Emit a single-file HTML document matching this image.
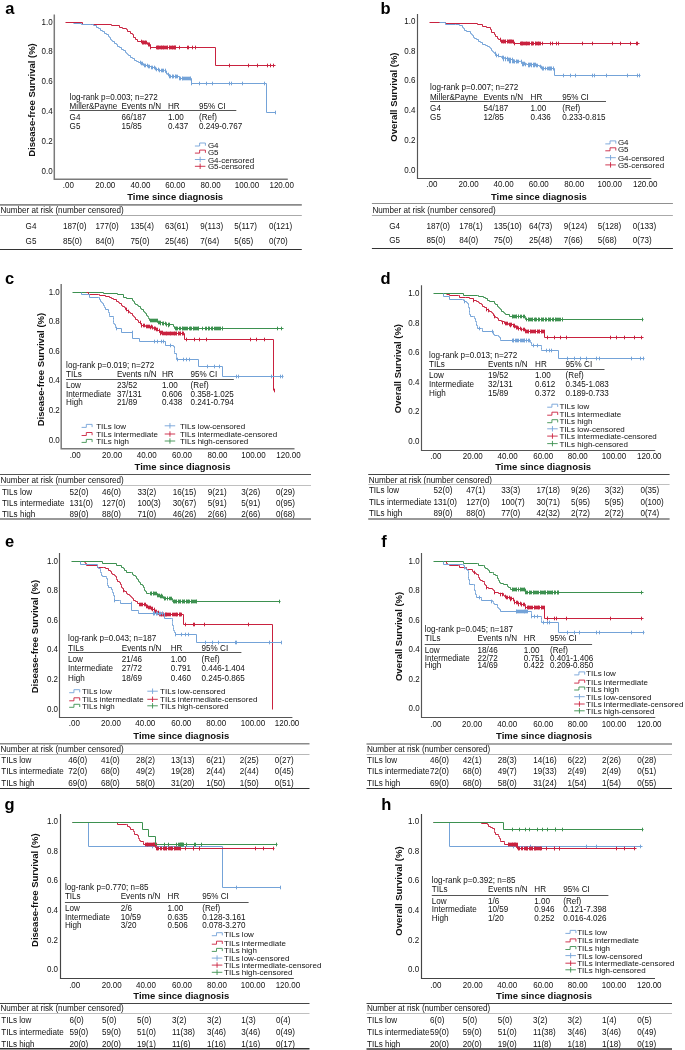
<!DOCTYPE html>
<html><head><meta charset="utf-8"><style>
html,body{margin:0;padding:0;background:#fff;overflow:hidden;width:685px;height:1050px;}
svg{display:block;will-change:transform;}
text{font-family:"Liberation Sans", sans-serif;}
</style></head><body>
<svg width="685" height="1050" viewBox="0 0 685 1050">
<rect width="685" height="1050" fill="#fff"/>
<path d="M54.3,14.6V179.2H287.8" fill="none" stroke="#7a7a7a" stroke-width="1.5" stroke-linejoin="miter"/>
<text x="52.60" y="24.70" font-size="8.48" text-anchor="end" fill="#111" transform="matrix(0.9434,0,0,1,2.977,0)">1.0</text>
<text x="52.60" y="54.50" font-size="8.48" text-anchor="end" fill="#111" transform="matrix(0.9434,0,0,1,2.977,0)">0.8</text>
<text x="52.60" y="84.30" font-size="8.48" text-anchor="end" fill="#111" transform="matrix(0.9434,0,0,1,2.977,0)">0.6</text>
<text x="52.60" y="114.10" font-size="8.48" text-anchor="end" fill="#111" transform="matrix(0.9434,0,0,1,2.977,0)">0.4</text>
<text x="52.60" y="143.90" font-size="8.48" text-anchor="end" fill="#111" transform="matrix(0.9434,0,0,1,2.977,0)">0.2</text>
<text x="52.60" y="173.70" font-size="8.48" text-anchor="end" fill="#111" transform="matrix(0.9434,0,0,1,2.977,0)">0.0</text>
<text x="68.30" y="187.80" font-size="8.48" text-anchor="middle" fill="#111" transform="matrix(0.9434,0,0,1,3.866,0)">.00</text>
<text x="105.30" y="187.80" font-size="8.48" text-anchor="middle" fill="#111" transform="matrix(0.9434,0,0,1,5.960,0)">20.00</text>
<text x="140.50" y="187.80" font-size="8.48" text-anchor="middle" fill="#111" transform="matrix(0.9434,0,0,1,7.953,0)">40.00</text>
<text x="175.20" y="187.80" font-size="8.48" text-anchor="middle" fill="#111" transform="matrix(0.9434,0,0,1,9.917,0)">60.00</text>
<text x="210.60" y="187.80" font-size="8.48" text-anchor="middle" fill="#111" transform="matrix(0.9434,0,0,1,11.921,0)">80.00</text>
<text x="247.00" y="187.80" font-size="8.48" text-anchor="middle" fill="#111" transform="matrix(0.9434,0,0,1,13.981,0)">100.00</text>
<text x="281.70" y="187.80" font-size="8.48" text-anchor="middle" fill="#111" transform="matrix(0.9434,0,0,1,15.945,0)">120.00</text>
<text x="175.20" y="199.90" font-size="9.5" text-anchor="middle" font-weight="bold" fill="#111" >Time since diagnosis</text>
<text x="34.60" y="100.00" font-size="9.5" text-anchor="middle" font-weight="bold" fill="#111" transform="rotate(-90 34.6 100.0)">Disease-free Survival (%)</text>
<text x="5.30" y="14.20" font-size="16.5" text-anchor="start" font-weight="bold" fill="#000" >a</text>
<path d="M65.5,22.5H82.5V24.5H111.5V25.5H119.5V27.5H122.5V28.5H126.5V29.5H127.5V31.5H130.5V33.5H132.5V34.5H133.5V37.5H135.5V39.5H137.5V41.5H141.5V42.5H147.5V44.5H150.5V47.5H215.5V65.5H275.5" fill="none" stroke="#c9223f" stroke-width="1.0"/>
<path d="M142.5,40.7V44.3M143.5,40.7V44.3M144.5,40.7V44.3M145.5,40.7V44.3M148.5,42.7V46.3M149.5,42.7V46.3M157.5,45.7V49.3M158.5,45.7V49.3M160.5,45.7V49.3M161.5,45.7V49.3M163.5,45.7V49.3M164.5,45.7V49.3M167.5,45.7V49.3M169.5,45.7V49.3M172.5,45.7V49.3M173.5,45.7V49.3M174.5,45.7V49.3M175.5,45.7V49.3M179.5,45.7V49.3M187.5,45.7V49.3M188.5,45.7V49.3M192.5,45.7V49.3M195.5,45.7V49.3M229.5,63.7V67.3M248.5,63.7V67.3M257.5,63.7V67.3M267.5,63.7V67.3M270.5,63.7V67.3M273.5,63.7V67.3M141.5,39.7V43.3M142.5,40.7V44.3M143.5,40.7V44.3M145.5,40.7V44.3M146.5,40.7V44.3M148.5,42.7V46.3M149.5,42.7V46.3M150.5,45.7V49.3M156.5,45.7V49.3M157.5,45.7V49.3M158.5,45.7V49.3M159.5,45.7V49.3M161.5,45.7V49.3M162.5,45.7V49.3M163.5,45.7V49.3M165.5,45.7V49.3M166.5,45.7V49.3M167.5,45.7V49.3M169.5,45.7V49.3M170.5,45.7V49.3M171.5,45.7V49.3M172.5,45.7V49.3M174.5,45.7V49.3M175.5,45.7V49.3" fill="none" stroke="#c9223f" stroke-width="1"/>
<path d="M73.5,23.5H81.5V24.5H91.5H93.5V25.5H96.5V27.5H98.5V28.5H100.5V30.5H102.5V31.5H104.5V33.5H106.5V34.5H108.5V36.5H109.5V37.5H110.5V39.5H111.5V40.5H112.5V41.5H114.5V43.5H116.5V44.5H117.5V46.5H119.5V47.5H121.5V49.5H123.5V50.5H125.5V52.5H126.5V53.5H127.5V54.5H128.5V55.5H130.5V57.5H132.5V58.5H134.5V60.5H136.5V61.5H138.5V62.5H140.5V63.5H143.5V65.5H147.5V66.5H151.5V67.5H154.5V68.5H156.5V69.5H158.5V70.5H164.5V70.5H165.5V72.5H166.5V73.5H167.5V74.5H169.5V76.5H177.5V76.5H179.5V78.5H191.5V83.5H266.5V112.5H275.5" fill="none" stroke="#74a3d8" stroke-width="1.0"/>
<path d="M199.5,81.7V85.3M206.5,81.7V85.3M212.5,81.7V85.3M229.5,81.7V85.3M231.5,81.7V85.3M242.5,81.7V85.3M264.5,81.7V85.3M275.5,110.7V114.3M172.5,74.7V78.3M175.5,74.7V78.3M182.5,76.7V80.3M185.5,76.7V80.3M188.5,76.7V80.3M190.5,76.7V80.3M140.5,60.7V64.3M141.5,61.7V65.3M142.5,61.7V65.3M144.5,63.7V67.3M145.5,63.7V67.3M147.5,63.7V67.3M148.5,64.7V68.3M149.5,64.7V68.3M151.5,65.7V69.3M152.5,65.7V69.3M154.5,65.7V69.3M155.5,66.7V70.3M156.5,67.7V71.3M158.5,67.7V71.3M159.5,68.7V72.3M161.5,68.7V72.3M162.5,68.7V72.3M163.5,68.7V72.3M165.5,68.7V72.3M166.5,70.7V74.3M168.5,72.7V76.3M169.5,74.7V78.3M170.5,74.7V78.3M172.5,74.7V78.3M173.5,74.7V78.3M175.5,74.7V78.3M176.5,74.7V78.3M177.5,74.7V78.3M179.5,76.7V80.3M180.5,76.7V80.3M182.5,76.7V80.3M183.5,76.7V80.3M184.5,76.7V80.3M186.5,76.7V80.3M187.5,76.7V80.3M189.5,76.7V80.3M190.5,76.7V80.3M191.5,81.7V85.3" fill="none" stroke="#74a3d8" stroke-width="1"/>
<text x="69.60" y="100.20" font-size="8.59" text-anchor="start" fill="#111" transform="matrix(0.9434,0,0,1,3.940,0)">log-rank p=0.003; n=272</text>
<text x="69.60" y="108.90" font-size="8.59" text-anchor="start" fill="#111" transform="matrix(0.9434,0,0,1,3.940,0)">Miller&amp;Payne</text>
<text x="121.50" y="108.90" font-size="8.59" text-anchor="start" fill="#111" transform="matrix(0.9434,0,0,1,6.877,0)">Events n/N</text>
<text x="168.00" y="108.90" font-size="8.59" text-anchor="start" fill="#111" transform="matrix(0.9434,0,0,1,9.509,0)">HR</text>
<text x="199.00" y="108.90" font-size="8.59" text-anchor="start" fill="#111" transform="matrix(0.9434,0,0,1,11.264,0)">95% CI</text>
<line x1="69.6" y1="110.5" x2="236.3" y2="110.5" stroke="#555" stroke-width="1.0"/>
<text x="69.60" y="120.30" font-size="8.59" text-anchor="start" fill="#111" transform="matrix(0.9434,0,0,1,3.940,0)">G4</text>
<text x="121.50" y="120.30" font-size="8.59" text-anchor="start" fill="#111" transform="matrix(0.9434,0,0,1,6.877,0)">66/187</text>
<text x="168.00" y="120.30" font-size="8.59" text-anchor="start" fill="#111" transform="matrix(0.9434,0,0,1,9.509,0)">1.00</text>
<text x="199.00" y="120.30" font-size="8.59" text-anchor="start" fill="#111" transform="matrix(0.9434,0,0,1,11.264,0)">(Ref)</text>
<text x="69.60" y="129.10" font-size="8.59" text-anchor="start" fill="#111" transform="matrix(0.9434,0,0,1,3.940,0)">G5</text>
<text x="121.50" y="129.10" font-size="8.59" text-anchor="start" fill="#111" transform="matrix(0.9434,0,0,1,6.877,0)">15/85</text>
<text x="168.00" y="129.10" font-size="8.59" text-anchor="start" fill="#111" transform="matrix(0.9434,0,0,1,9.509,0)">0.437</text>
<text x="199.00" y="129.10" font-size="8.59" text-anchor="start" fill="#111" transform="matrix(0.9434,0,0,1,11.264,0)">0.249-0.767</text>
<path d="M194.9,146.0 H199.625 V143.0 H205.4 V145.7" fill="none" stroke="#74a3d8" stroke-width="0.9"/>
<text x="207.90" y="147.60" font-size="6.88" text-anchor="start" fill="#111" transform="matrix(1.1628,0,0,1,-33.844,0)">G4</text>
<path d="M194.9,153.1 H199.625 V150.1 H205.4 V152.79999999999998" fill="none" stroke="#c9223f" stroke-width="0.9"/>
<text x="207.90" y="154.70" font-size="6.88" text-anchor="start" fill="#111" transform="matrix(1.1628,0,0,1,-33.844,0)">G5</text>
<path d="M194.9,159.5 H205.4 M200.15,156.8 V162.2" fill="none" stroke="#74a3d8" stroke-width="0.9"/>
<text x="207.90" y="162.60" font-size="6.88" text-anchor="start" fill="#111" transform="matrix(1.1628,0,0,1,-33.844,0)">G4-censored</text>
<path d="M194.9,166.3 H205.4 M200.15,163.60000000000002 V169.0" fill="none" stroke="#c9223f" stroke-width="0.9"/>
<text x="207.90" y="169.40" font-size="6.88" text-anchor="start" fill="#111" transform="matrix(1.1628,0,0,1,-33.844,0)">G5-censored</text>
<line x1="0" y1="204.9" x2="301.8" y2="204.9" stroke="#8a8a8a" stroke-width="1.6"/>
<text x="0.50" y="213.50" font-size="8.59" text-anchor="start" fill="#111" transform="matrix(0.9434,0,0,1,0.028,0)">Number at risk (number censored)</text>
<line x1="0" y1="215.5" x2="301.8" y2="215.5" stroke="#a0a0a0" stroke-width="0.9"/>
<text x="31.00" y="229.20" font-size="8.59" text-anchor="middle" fill="#111" transform="matrix(0.9434,0,0,1,1.755,0)">G4</text>
<text x="63.00" y="229.20" font-size="8.59" text-anchor="start" fill="#111" transform="matrix(0.9434,0,0,1,3.566,0)">187(0)</text>
<text x="95.40" y="229.20" font-size="8.59" text-anchor="start" fill="#111" transform="matrix(0.9434,0,0,1,5.400,0)">177(0)</text>
<text x="130.50" y="229.20" font-size="8.59" text-anchor="start" fill="#111" transform="matrix(0.9434,0,0,1,7.387,0)">135(4)</text>
<text x="165.10" y="229.20" font-size="8.59" text-anchor="start" fill="#111" transform="matrix(0.9434,0,0,1,9.345,0)">63(61)</text>
<text x="200.30" y="229.20" font-size="8.59" text-anchor="start" fill="#111" transform="matrix(0.9434,0,0,1,11.338,0)">9(113)</text>
<text x="234.20" y="229.20" font-size="8.59" text-anchor="start" fill="#111" transform="matrix(0.9434,0,0,1,13.257,0)">5(117)</text>
<text x="268.90" y="229.20" font-size="8.59" text-anchor="start" fill="#111" transform="matrix(0.9434,0,0,1,15.221,0)">0(121)</text>
<text x="31.00" y="243.60" font-size="8.59" text-anchor="middle" fill="#111" transform="matrix(0.9434,0,0,1,1.755,0)">G5</text>
<text x="63.00" y="243.60" font-size="8.59" text-anchor="start" fill="#111" transform="matrix(0.9434,0,0,1,3.566,0)">85(0)</text>
<text x="95.40" y="243.60" font-size="8.59" text-anchor="start" fill="#111" transform="matrix(0.9434,0,0,1,5.400,0)">84(0)</text>
<text x="130.50" y="243.60" font-size="8.59" text-anchor="start" fill="#111" transform="matrix(0.9434,0,0,1,7.387,0)">75(0)</text>
<text x="165.10" y="243.60" font-size="8.59" text-anchor="start" fill="#111" transform="matrix(0.9434,0,0,1,9.345,0)">25(46)</text>
<text x="200.30" y="243.60" font-size="8.59" text-anchor="start" fill="#111" transform="matrix(0.9434,0,0,1,11.338,0)">7(64)</text>
<text x="234.20" y="243.60" font-size="8.59" text-anchor="start" fill="#111" transform="matrix(0.9434,0,0,1,13.257,0)">5(65)</text>
<text x="268.90" y="243.60" font-size="8.59" text-anchor="start" fill="#111" transform="matrix(0.9434,0,0,1,15.221,0)">0(70)</text>
<line x1="0" y1="249.5" x2="301.8" y2="249.5" stroke="#333" stroke-width="1.2"/>
<path d="M417.5,13.9V178.5H651.3" fill="none" stroke="#555" stroke-width="1.15" stroke-linejoin="miter"/>
<text x="415.40" y="24.00" font-size="8.48" text-anchor="end" fill="#111" transform="matrix(0.9434,0,0,1,23.513,0)">1.0</text>
<text x="415.40" y="53.75" font-size="8.48" text-anchor="end" fill="#111" transform="matrix(0.9434,0,0,1,23.513,0)">0.8</text>
<text x="415.40" y="83.50" font-size="8.48" text-anchor="end" fill="#111" transform="matrix(0.9434,0,0,1,23.513,0)">0.6</text>
<text x="415.40" y="113.25" font-size="8.48" text-anchor="end" fill="#111" transform="matrix(0.9434,0,0,1,23.513,0)">0.4</text>
<text x="415.40" y="143.00" font-size="8.48" text-anchor="end" fill="#111" transform="matrix(0.9434,0,0,1,23.513,0)">0.2</text>
<text x="415.40" y="172.75" font-size="8.48" text-anchor="end" fill="#111" transform="matrix(0.9434,0,0,1,23.513,0)">0.0</text>
<text x="431.90" y="187.20" font-size="8.48" text-anchor="middle" fill="#111" transform="matrix(0.9434,0,0,1,24.447,0)">.00</text>
<text x="468.60" y="187.20" font-size="8.48" text-anchor="middle" fill="#111" transform="matrix(0.9434,0,0,1,26.525,0)">20.00</text>
<text x="503.60" y="187.20" font-size="8.48" text-anchor="middle" fill="#111" transform="matrix(0.9434,0,0,1,28.506,0)">40.00</text>
<text x="538.80" y="187.20" font-size="8.48" text-anchor="middle" fill="#111" transform="matrix(0.9434,0,0,1,30.498,0)">60.00</text>
<text x="574.20" y="187.20" font-size="8.48" text-anchor="middle" fill="#111" transform="matrix(0.9434,0,0,1,32.502,0)">80.00</text>
<text x="609.80" y="187.20" font-size="8.48" text-anchor="middle" fill="#111" transform="matrix(0.9434,0,0,1,34.517,0)">100.00</text>
<text x="645.20" y="187.20" font-size="8.48" text-anchor="middle" fill="#111" transform="matrix(0.9434,0,0,1,36.521,0)">120.00</text>
<text x="538.90" y="199.80" font-size="9.5" text-anchor="middle" font-weight="bold" fill="#111" >Time since diagnosis</text>
<text x="397.50" y="97.10" font-size="9.5" text-anchor="middle" font-weight="bold" fill="#111" transform="rotate(-90 397.5 97.1)">Overall Survival (%)</text>
<text x="380.60" y="13.90" font-size="16.5" text-anchor="start" font-weight="bold" fill="#000" >b</text>
<path d="M429.5,22.5H445.5V23.5H477.5V24.5H482.5V26.5H486.5V27.5H490.5V29.5H491.5V32.5H494.5V34.5H495.5V36.5H497.5V38.5H498.5V39.5H500.5V41.5H513.5V43.5H639.5" fill="none" stroke="#c9223f" stroke-width="1.0"/>
<path d="M503.5,39.7V43.3M505.5,39.7V43.3M507.5,39.7V43.3M509.5,39.7V43.3M510.5,39.7V43.3M511.5,39.7V43.3M512.5,39.7V43.3M521.5,41.7V45.3M522.5,41.7V45.3M523.5,41.7V45.3M526.5,41.7V45.3M527.5,41.7V45.3M531.5,41.7V45.3M532.5,41.7V45.3M535.5,41.7V45.3M537.5,41.7V45.3M538.5,41.7V45.3M542.5,41.7V45.3M550.5,41.7V45.3M552.5,41.7V45.3M556.5,41.7V45.3M558.5,41.7V45.3M582.5,41.7V45.3M592.5,41.7V45.3M612.5,41.7V45.3M620.5,41.7V45.3M630.5,41.7V45.3M636.5,41.7V45.3M637.5,41.7V45.3M500.5,37.7V41.3M501.5,39.7V43.3M502.5,39.7V43.3M503.5,39.7V43.3M504.5,39.7V43.3M505.5,39.7V43.3M507.5,39.7V43.3M508.5,39.7V43.3M509.5,39.7V43.3M510.5,39.7V43.3M511.5,39.7V43.3M513.5,39.7V43.3M514.5,41.7V45.3M520.5,41.7V45.3M521.5,41.7V45.3M522.5,41.7V45.3M524.5,41.7V45.3M525.5,41.7V45.3M526.5,41.7V45.3M528.5,41.7V45.3M529.5,41.7V45.3M531.5,41.7V45.3M532.5,41.7V45.3M533.5,41.7V45.3M535.5,41.7V45.3M536.5,41.7V45.3M538.5,41.7V45.3M539.5,41.7V45.3M540.5,41.7V45.3" fill="none" stroke="#c9223f" stroke-width="1"/>
<path d="M439.5,22.5H445.5V24.5H455.5H459.5V25.5H462.5V27.5H463.5V28.5H464.5V30.5H466.5V31.5H470.5V33.5H471.5V34.5H472.5V35.5H473.5V37.5H474.5V38.5H476.5V39.5H478.5V41.5H480.5V42.5H482.5V44.5H485.5V45.5H487.5V46.5H489.5V47.5H490.5V48.5H491.5V50.5H492.5V51.5H493.5V52.5H494.5V53.5H495.5V55.5H498.5V56.5H501.5V57.5H504.5V58.5H507.5V59.5H513.5V61.5L520.20,61.40H521.5V63.5H526.5V64.5H537.5V65.5H539.5V66.5H540.5V67.5H541.5V68.5H554.5V75.5H640.5" fill="none" stroke="#74a3d8" stroke-width="1.0"/>
<path d="M563.5,73.7V77.3M570.5,73.7V77.3M575.5,73.7V77.3M592.5,73.7V77.3M594.5,73.7V77.3M606.5,73.7V77.3M627.5,73.7V77.3M637.5,73.7V77.3M639.5,73.7V77.3M542.5,66.7V70.3M543.5,66.7V70.3M545.5,66.7V70.3M547.5,66.7V70.3M549.5,66.7V70.3M550.5,66.7V70.3M551.5,66.7V70.3M553.5,66.7V70.3M528.5,63.7V67.3M529.5,63.7V67.3M531.5,63.7V67.3M533.5,63.7V67.3M534.5,63.7V67.3M536.5,63.7V67.3M522.5,62.7V66.3M523.5,62.7V66.3M525.5,62.7V66.3M509.5,59.7V63.3M510.5,59.7V63.3M512.5,59.7V63.3M514.5,59.7V63.3M516.5,59.7V63.3M518.5,59.7V63.3M503.5,57.7V61.3M505.5,57.7V61.3M507.5,57.7V61.3M495.5,51.7V55.3M496.5,53.7V57.3M498.5,53.7V57.3M502.5,55.7V59.3M503.5,55.7V59.3M505.5,56.7V60.3M507.5,56.7V60.3M508.5,57.7V61.3M509.5,57.7V61.3M510.5,57.7V61.3M512.5,57.7V61.3M513.5,59.7V63.3M514.5,59.7V63.3M516.5,59.7V63.3M517.5,59.7V63.3M521.5,59.7V63.3M522.5,61.7V65.3M523.5,61.7V65.3M524.5,61.7V65.3M528.5,62.7V66.3M529.5,62.7V66.3M530.5,62.7V66.3M531.5,62.7V66.3M533.5,62.7V66.3M534.5,62.7V66.3M535.5,62.7V66.3M537.5,63.7V67.3M540.5,64.7V68.3M541.5,65.7V69.3M542.5,66.7V70.3M543.5,66.7V70.3M548.5,66.7V70.3M549.5,66.7V70.3M550.5,66.7V70.3M551.5,66.7V70.3M553.5,66.7V70.3" fill="none" stroke="#74a3d8" stroke-width="1"/>
<text x="430.10" y="90.20" font-size="8.59" text-anchor="start" fill="#111" transform="matrix(0.9434,0,0,1,24.345,0)">log-rank p=0.007; n=272</text>
<text x="430.10" y="99.70" font-size="8.59" text-anchor="start" fill="#111" transform="matrix(0.9434,0,0,1,24.345,0)">Miller&amp;Payne</text>
<text x="483.40" y="99.70" font-size="8.59" text-anchor="start" fill="#111" transform="matrix(0.9434,0,0,1,27.362,0)">Events n/N</text>
<text x="530.60" y="99.70" font-size="8.59" text-anchor="start" fill="#111" transform="matrix(0.9434,0,0,1,30.034,0)">HR</text>
<text x="562.20" y="99.70" font-size="8.59" text-anchor="start" fill="#111" transform="matrix(0.9434,0,0,1,31.823,0)">95% CI</text>
<line x1="430.1" y1="101.5" x2="606" y2="101.5" stroke="#555" stroke-width="1.0"/>
<text x="430.10" y="110.90" font-size="8.59" text-anchor="start" fill="#111" transform="matrix(0.9434,0,0,1,24.345,0)">G4</text>
<text x="483.40" y="110.90" font-size="8.59" text-anchor="start" fill="#111" transform="matrix(0.9434,0,0,1,27.362,0)">54/187</text>
<text x="530.60" y="110.90" font-size="8.59" text-anchor="start" fill="#111" transform="matrix(0.9434,0,0,1,30.034,0)">1.00</text>
<text x="562.20" y="110.90" font-size="8.59" text-anchor="start" fill="#111" transform="matrix(0.9434,0,0,1,31.823,0)">(Ref)</text>
<text x="430.10" y="120.50" font-size="8.59" text-anchor="start" fill="#111" transform="matrix(0.9434,0,0,1,24.345,0)">G5</text>
<text x="483.40" y="120.50" font-size="8.59" text-anchor="start" fill="#111" transform="matrix(0.9434,0,0,1,27.362,0)">12/85</text>
<text x="530.60" y="120.50" font-size="8.59" text-anchor="start" fill="#111" transform="matrix(0.9434,0,0,1,30.034,0)">0.436</text>
<text x="562.20" y="120.50" font-size="8.59" text-anchor="start" fill="#111" transform="matrix(0.9434,0,0,1,31.823,0)">0.233-0.815</text>
<path d="M605.3,143.9 H610.025 V140.9 H615.8 V143.6" fill="none" stroke="#74a3d8" stroke-width="0.9"/>
<text x="617.90" y="145.50" font-size="6.88" text-anchor="start" fill="#111" transform="matrix(1.1628,0,0,1,-100.588,0)">G4</text>
<path d="M605.3,150.8 H610.025 V147.8 H615.8 V150.5" fill="none" stroke="#c9223f" stroke-width="0.9"/>
<text x="617.90" y="152.40" font-size="6.88" text-anchor="start" fill="#111" transform="matrix(1.1628,0,0,1,-100.588,0)">G5</text>
<path d="M605.3,157.70000000000002 H615.8 M610.55,155.00000000000003 V160.4" fill="none" stroke="#74a3d8" stroke-width="0.9"/>
<text x="617.90" y="160.80" font-size="6.88" text-anchor="start" fill="#111" transform="matrix(1.1628,0,0,1,-100.588,0)">G4-censored</text>
<path d="M605.3,164.9 H615.8 M610.55,162.20000000000002 V167.6" fill="none" stroke="#c9223f" stroke-width="0.9"/>
<text x="617.90" y="168.00" font-size="6.88" text-anchor="start" fill="#111" transform="matrix(1.1628,0,0,1,-100.588,0)">G5-censored</text>
<line x1="371.9" y1="203.5" x2="672.9" y2="203.5" stroke="#909090" stroke-width="1.2"/>
<text x="372.40" y="213.00" font-size="8.59" text-anchor="start" fill="#111" transform="matrix(0.9434,0,0,1,21.079,0)">Number at risk (number censored)</text>
<line x1="371.9" y1="215.5" x2="672.9" y2="215.5" stroke="#a0a0a0" stroke-width="0.9"/>
<text x="394.60" y="228.90" font-size="8.59" text-anchor="middle" fill="#111" transform="matrix(0.9434,0,0,1,22.336,0)">G4</text>
<text x="426.50" y="228.90" font-size="8.59" text-anchor="start" fill="#111" transform="matrix(0.9434,0,0,1,24.142,0)">187(0)</text>
<text x="459.20" y="228.90" font-size="8.59" text-anchor="start" fill="#111" transform="matrix(0.9434,0,0,1,25.992,0)">178(1)</text>
<text x="493.80" y="228.90" font-size="8.59" text-anchor="start" fill="#111" transform="matrix(0.9434,0,0,1,27.951,0)">135(10)</text>
<text x="528.90" y="228.90" font-size="8.59" text-anchor="start" fill="#111" transform="matrix(0.9434,0,0,1,29.938,0)">64(73)</text>
<text x="563.80" y="228.90" font-size="8.59" text-anchor="start" fill="#111" transform="matrix(0.9434,0,0,1,31.913,0)">9(124)</text>
<text x="597.80" y="228.90" font-size="8.59" text-anchor="start" fill="#111" transform="matrix(0.9434,0,0,1,33.838,0)">5(128)</text>
<text x="632.70" y="228.90" font-size="8.59" text-anchor="start" fill="#111" transform="matrix(0.9434,0,0,1,35.813,0)">0(133)</text>
<text x="394.60" y="242.80" font-size="8.59" text-anchor="middle" fill="#111" transform="matrix(0.9434,0,0,1,22.336,0)">G5</text>
<text x="426.50" y="242.80" font-size="8.59" text-anchor="start" fill="#111" transform="matrix(0.9434,0,0,1,24.142,0)">85(0)</text>
<text x="459.20" y="242.80" font-size="8.59" text-anchor="start" fill="#111" transform="matrix(0.9434,0,0,1,25.992,0)">84(0)</text>
<text x="493.80" y="242.80" font-size="8.59" text-anchor="start" fill="#111" transform="matrix(0.9434,0,0,1,27.951,0)">75(0)</text>
<text x="528.90" y="242.80" font-size="8.59" text-anchor="start" fill="#111" transform="matrix(0.9434,0,0,1,29.938,0)">25(48)</text>
<text x="563.80" y="242.80" font-size="8.59" text-anchor="start" fill="#111" transform="matrix(0.9434,0,0,1,31.913,0)">7(66)</text>
<text x="597.80" y="242.80" font-size="8.59" text-anchor="start" fill="#111" transform="matrix(0.9434,0,0,1,33.838,0)">5(68)</text>
<text x="632.70" y="242.80" font-size="8.59" text-anchor="start" fill="#111" transform="matrix(0.9434,0,0,1,35.813,0)">0(73)</text>
<line x1="371.9" y1="248.5" x2="672.9" y2="248.5" stroke="#333" stroke-width="1.2"/>
<path d="M61.2,283.9V448.8H294.5" fill="none" stroke="#7a7a7a" stroke-width="1.5" stroke-linejoin="miter"/>
<text x="59.80" y="294.60" font-size="8.48" text-anchor="end" fill="#111" transform="matrix(0.9434,0,0,1,3.385,0)">1.0</text>
<text x="59.80" y="324.20" font-size="8.48" text-anchor="end" fill="#111" transform="matrix(0.9434,0,0,1,3.385,0)">0.8</text>
<text x="59.80" y="353.80" font-size="8.48" text-anchor="end" fill="#111" transform="matrix(0.9434,0,0,1,3.385,0)">0.6</text>
<text x="59.80" y="383.40" font-size="8.48" text-anchor="end" fill="#111" transform="matrix(0.9434,0,0,1,3.385,0)">0.4</text>
<text x="59.80" y="413.00" font-size="8.48" text-anchor="end" fill="#111" transform="matrix(0.9434,0,0,1,3.385,0)">0.2</text>
<text x="59.80" y="442.60" font-size="8.48" text-anchor="end" fill="#111" transform="matrix(0.9434,0,0,1,3.385,0)">0.0</text>
<text x="75.20" y="457.90" font-size="8.48" text-anchor="middle" fill="#111" transform="matrix(0.9434,0,0,1,4.257,0)">.00</text>
<text x="112.10" y="457.90" font-size="8.48" text-anchor="middle" fill="#111" transform="matrix(0.9434,0,0,1,6.345,0)">20.00</text>
<text x="146.70" y="457.90" font-size="8.48" text-anchor="middle" fill="#111" transform="matrix(0.9434,0,0,1,8.304,0)">40.00</text>
<text x="182.00" y="457.90" font-size="8.48" text-anchor="middle" fill="#111" transform="matrix(0.9434,0,0,1,10.302,0)">60.00</text>
<text x="217.50" y="457.90" font-size="8.48" text-anchor="middle" fill="#111" transform="matrix(0.9434,0,0,1,12.311,0)">80.00</text>
<text x="253.50" y="457.90" font-size="8.48" text-anchor="middle" fill="#111" transform="matrix(0.9434,0,0,1,14.349,0)">100.00</text>
<text x="288.50" y="457.90" font-size="8.48" text-anchor="middle" fill="#111" transform="matrix(0.9434,0,0,1,16.330,0)">120.00</text>
<text x="182.50" y="469.70" font-size="9.5" text-anchor="middle" font-weight="bold" fill="#111" >Time since diagnosis</text>
<text x="44.10" y="369.60" font-size="9.5" text-anchor="middle" font-weight="bold" fill="#111" transform="rotate(-90 44.1 369.6)">Disease-free Survival (%)</text>
<text x="5.10" y="283.90" font-size="16.5" text-anchor="start" font-weight="bold" fill="#000" >c</text>
<path d="M72.5,292.5H103.5V293.5H117.5V294.5H123.5V297.5H126.5V298.5H132.5V300.5H133.5V301.5H134.5V303.5H135.5V304.5H137.5V305.5H138.5V306.5H140.5V308.5H141.5V309.5H143.5V311.5H144.5V312.5H145.5V313.5H146.5V315.5H147.5V316.5H148.5V317.5H148.5V318.5H149.5V320.5H154.5V320.5H157.5V322.5H162.5V323.5H165.5V324.5H173.5V326.5H174.5V328.5H283.5" fill="none" stroke="#3d9150" stroke-width="1.0"/>
<path d="M152.5,318.7V322.3M155.5,318.7V322.3M158.5,320.7V324.3M160.5,321.7V325.3M163.5,321.7V325.3M166.5,322.7V326.3M168.5,323.7V327.3M176.5,326.7V330.3M182.5,326.7V330.3M185.5,326.7V330.3M190.5,326.7V330.3M193.5,326.7V330.3M195.5,326.7V330.3M198.5,326.7V330.3M202.5,326.7V330.3M208.5,326.7V330.3M212.5,326.7V330.3M215.5,326.7V330.3M218.5,326.7V330.3M222.5,326.7V330.3M277.5,326.7V330.3M281.5,326.7V330.3M150.5,318.7V322.3M151.5,318.7V322.3M153.5,318.7V322.3M154.5,318.7V322.3M156.5,318.7V322.3M157.5,318.7V322.3M159.5,320.7V324.3M160.5,320.7V324.3M162.5,321.7V325.3M163.5,321.7V325.3M165.5,321.7V325.3M166.5,322.7V326.3M168.5,322.7V326.3M169.5,322.7V326.3M175.5,326.7V330.3M176.5,326.7V330.3M177.5,326.7V330.3M179.5,326.7V330.3M180.5,326.7V330.3M182.5,326.7V330.3M183.5,326.7V330.3M184.5,326.7V330.3M186.5,326.7V330.3M187.5,326.7V330.3M189.5,326.7V330.3M190.5,326.7V330.3M191.5,326.7V330.3M193.5,326.7V330.3M194.5,326.7V330.3M196.5,326.7V330.3M197.5,326.7V330.3M198.5,326.7V330.3M205.5,326.7V330.3M206.5,326.7V330.3M208.5,326.7V330.3M209.5,326.7V330.3M211.5,326.7V330.3M212.5,326.7V330.3M214.5,326.7V330.3M216.5,326.7V330.3M217.5,326.7V330.3M219.5,326.7V330.3M220.5,326.7V330.3M222.5,326.7V330.3" fill="none" stroke="#3d9150" stroke-width="1"/>
<path d="M86.5,292.5H88.5V294.5H98.5H99.5V295.5H105.5V296.5H109.5V297.5H111.5V298.5H113.5V299.5H116.5V301.5H118.5V302.5H119.5V303.5H121.5V305.5H122.5V306.5H124.5V307.5H125.5V309.5H126.5V310.5H128.5V311.5H129.5V312.5H130.5V313.5H132.5V315.5H133.5V316.5H134.5V317.5H135.5V319.5H137.5V320.5H138.5V322.5H140.5V323.5H141.5V325.5H145.5V326.5H151.5V327.5H153.5V328.5H156.5V329.5H157.5V330.5H159.5V332.5H163.5V333.5H184.5V339.5H273.5V390.5" fill="none" stroke="#c9223f" stroke-width="1.0"/>
<path d="M160.5,331.7V335.3M162.5,331.7V335.3M164.5,331.7V335.3M166.5,331.7V335.3M168.5,331.7V335.3M170.5,331.7V335.3M172.5,331.7V335.3M174.5,331.7V335.3M176.5,331.7V335.3M178.5,331.7V335.3M180.5,331.7V335.3M182.5,331.7V335.3M126.5,307.7V311.3M128.5,309.7V313.3M141.5,323.7V327.3M148.5,324.7V328.3M150.5,325.7V329.3M152.5,325.7V329.3M154.5,326.7V330.3M156.5,327.7V331.3M186.5,337.7V341.3M194.5,337.7V341.3M199.5,337.7V341.3M206.5,337.7V341.3M250.5,337.7V341.3M256.5,337.7V341.3M264.5,337.7V341.3M274.5,388.7V392.3M140.5,320.7V324.3M141.5,323.7V327.3M143.5,323.7V327.3M144.5,323.7V327.3M146.5,324.7V328.3M147.5,324.7V328.3M149.5,324.7V328.3M151.5,324.7V328.3M152.5,325.7V329.3M154.5,326.7V330.3M155.5,326.7V330.3M157.5,327.7V331.3M159.5,328.7V332.3M160.5,330.7V334.3M161.5,330.7V334.3M162.5,330.7V334.3M163.5,331.7V335.3M165.5,331.7V335.3M166.5,331.7V335.3M167.5,331.7V335.3M169.5,331.7V335.3M170.5,331.7V335.3M171.5,331.7V335.3M173.5,331.7V335.3M174.5,331.7V335.3M175.5,331.7V335.3M176.5,331.7V335.3M178.5,331.7V335.3M179.5,331.7V335.3M180.5,331.7V335.3M182.5,331.7V335.3M183.5,331.7V335.3" fill="none" stroke="#c9223f" stroke-width="1"/>
<path d="M81.5,292.5V294.5H89.5V297.5H98.5H99.5V299.5H100.5V301.5H101.5V302.5H102.5V303.5H103.5V305.5H104.5V306.5H104.5V307.5H105.5V309.5H108.5V309.5H108.5V311.5H108.5V312.5H109.5V313.5H109.5V315.5H109.5V316.5H113.5V317.5H113.5V319.5H113.5V320.5H113.5V322.5H113.5V323.5H114.5V324.5H115.5V326.5H115.5V327.5H116.5V328.5H121.5V332.5H132.5V338.5H139.5V341.5H165.5H165.5V342.5H165.5V343.5H165.5V345.5H173.5H173.5V346.5H174.5V348.5H174.5V349.5H174.5V350.5H174.5V352.5H174.5V353.5H176.5V355.5H176.5V356.5H176.5V357.5H176.5V359.5H198.5V366.5H222.5V376.5H283.5" fill="none" stroke="#74a3d8" stroke-width="1.0"/>
<path d="M116.5,326.7V330.3M132.5,330.7V334.3M165.5,341.7V345.3M170.5,343.7V347.3M154.5,339.7V343.3M157.5,339.7V343.3M161.5,339.7V343.3M163.5,339.7V343.3M177.5,357.7V361.3M183.5,357.7V361.3M186.5,357.7V361.3M189.5,357.7V361.3M207.5,364.7V368.3M214.5,364.7V368.3M219.5,364.7V368.3M236.5,374.7V378.3M238.5,374.7V378.3M271.5,374.7V378.3M280.5,374.7V378.3M282.5,374.7V378.3" fill="none" stroke="#74a3d8" stroke-width="1"/>
<text x="66.10" y="367.80" font-size="8.59" text-anchor="start" fill="#111" transform="matrix(0.9434,0,0,1,3.742,0)">log-rank p=0.019; n=272</text>
<text x="66.10" y="377.20" font-size="8.59" text-anchor="start" fill="#111" transform="matrix(0.9434,0,0,1,3.742,0)">TILs</text>
<text x="116.90" y="377.20" font-size="8.59" text-anchor="start" fill="#111" transform="matrix(0.9434,0,0,1,6.617,0)">Events n/N</text>
<text x="162.00" y="377.20" font-size="8.59" text-anchor="start" fill="#111" transform="matrix(0.9434,0,0,1,9.170,0)">HR</text>
<text x="190.60" y="377.20" font-size="8.59" text-anchor="start" fill="#111" transform="matrix(0.9434,0,0,1,10.789,0)">95% CI</text>
<line x1="66.1" y1="379.5" x2="233.8" y2="379.5" stroke="#555" stroke-width="1.0"/>
<text x="66.10" y="387.90" font-size="8.59" text-anchor="start" fill="#111" transform="matrix(0.9434,0,0,1,3.742,0)">Low</text>
<text x="116.90" y="387.90" font-size="8.59" text-anchor="start" fill="#111" transform="matrix(0.9434,0,0,1,6.617,0)">23/52</text>
<text x="162.00" y="387.90" font-size="8.59" text-anchor="start" fill="#111" transform="matrix(0.9434,0,0,1,9.170,0)">1.00</text>
<text x="190.60" y="387.90" font-size="8.59" text-anchor="start" fill="#111" transform="matrix(0.9434,0,0,1,10.789,0)">(Ref)</text>
<text x="66.10" y="396.80" font-size="8.59" text-anchor="start" fill="#111" transform="matrix(0.9434,0,0,1,3.742,0)">Intermediate</text>
<text x="116.90" y="396.80" font-size="8.59" text-anchor="start" fill="#111" transform="matrix(0.9434,0,0,1,6.617,0)">37/131</text>
<text x="162.00" y="396.80" font-size="8.59" text-anchor="start" fill="#111" transform="matrix(0.9434,0,0,1,9.170,0)">0.606</text>
<text x="190.60" y="396.80" font-size="8.59" text-anchor="start" fill="#111" transform="matrix(0.9434,0,0,1,10.789,0)">0.358-1.025</text>
<text x="66.10" y="405.00" font-size="8.59" text-anchor="start" fill="#111" transform="matrix(0.9434,0,0,1,3.742,0)">High</text>
<text x="116.90" y="405.00" font-size="8.59" text-anchor="start" fill="#111" transform="matrix(0.9434,0,0,1,6.617,0)">21/89</text>
<text x="162.00" y="405.00" font-size="8.59" text-anchor="start" fill="#111" transform="matrix(0.9434,0,0,1,9.170,0)">0.438</text>
<text x="190.60" y="405.00" font-size="8.59" text-anchor="start" fill="#111" transform="matrix(0.9434,0,0,1,10.789,0)">0.241-0.794</text>
<path d="M81.6,427.4 H86.32499999999999 V424.4 H92.1 V427.09999999999997" fill="none" stroke="#74a3d8" stroke-width="0.9"/>
<text x="96.20" y="429.00" font-size="6.88" text-anchor="start" fill="#111" transform="matrix(1.1628,0,0,1,-15.660,0)">TILs low</text>
<path d="M81.6,435.5 H86.32499999999999 V432.5 H92.1 V435.2" fill="none" stroke="#c9223f" stroke-width="0.9"/>
<text x="96.20" y="437.10" font-size="6.88" text-anchor="start" fill="#111" transform="matrix(1.1628,0,0,1,-15.660,0)">TILs intermediate</text>
<path d="M81.6,442.4 H86.32499999999999 V439.4 H92.1 V442.09999999999997" fill="none" stroke="#3d9150" stroke-width="0.9"/>
<text x="96.20" y="444.00" font-size="6.88" text-anchor="start" fill="#111" transform="matrix(1.1628,0,0,1,-15.660,0)">TILs high</text>
<path d="M164.7,425.79999999999995 H175.2 M169.95,423.09999999999997 V428.49999999999994" fill="none" stroke="#74a3d8" stroke-width="0.9"/>
<text x="179.90" y="428.90" font-size="6.88" text-anchor="start" fill="#111" transform="matrix(1.1628,0,0,1,-29.286,0)">TILs low-censored</text>
<path d="M164.7,434.0 H175.2 M169.95,431.3 V436.7" fill="none" stroke="#c9223f" stroke-width="0.9"/>
<text x="179.90" y="437.10" font-size="6.88" text-anchor="start" fill="#111" transform="matrix(1.1628,0,0,1,-29.286,0)">TILs intermediate-censored</text>
<path d="M164.7,441.0 H175.2 M169.95,438.3 V443.7" fill="none" stroke="#3d9150" stroke-width="0.9"/>
<text x="179.90" y="444.10" font-size="6.88" text-anchor="start" fill="#111" transform="matrix(1.1628,0,0,1,-29.286,0)">TILs high-censored</text>
<line x1="0" y1="474.5" x2="311" y2="474.5" stroke="#555" stroke-width="1.2"/>
<text x="0.50" y="483.10" font-size="8.59" text-anchor="start" fill="#111" transform="matrix(0.9434,0,0,1,0.028,0)">Number at risk (number censored)</text>
<line x1="0" y1="485.5" x2="311" y2="485.5" stroke="#c0c0c0" stroke-width="1.0"/>
<text x="1.90" y="494.80" font-size="8.59" text-anchor="start" fill="#111" transform="matrix(0.9434,0,0,1,0.108,0)">TILs low</text>
<text x="69.60" y="494.80" font-size="8.59" text-anchor="start" fill="#111" transform="matrix(0.9434,0,0,1,3.940,0)">52(0)</text>
<text x="102.10" y="494.80" font-size="8.59" text-anchor="start" fill="#111" transform="matrix(0.9434,0,0,1,5.779,0)">46(0)</text>
<text x="137.40" y="494.80" font-size="8.59" text-anchor="start" fill="#111" transform="matrix(0.9434,0,0,1,7.777,0)">33(2)</text>
<text x="172.80" y="494.80" font-size="8.59" text-anchor="start" fill="#111" transform="matrix(0.9434,0,0,1,9.781,0)">16(15)</text>
<text x="207.80" y="494.80" font-size="8.59" text-anchor="start" fill="#111" transform="matrix(0.9434,0,0,1,11.762,0)">9(21)</text>
<text x="241.20" y="494.80" font-size="8.59" text-anchor="start" fill="#111" transform="matrix(0.9434,0,0,1,13.653,0)">3(26)</text>
<text x="276.10" y="494.80" font-size="8.59" text-anchor="start" fill="#111" transform="matrix(0.9434,0,0,1,15.628,0)">0(29)</text>
<text x="1.90" y="506.20" font-size="8.59" text-anchor="start" fill="#111" transform="matrix(0.9434,0,0,1,0.108,0)">TILs intermediate</text>
<text x="69.60" y="506.20" font-size="8.59" text-anchor="start" fill="#111" transform="matrix(0.9434,0,0,1,3.940,0)">131(0)</text>
<text x="102.10" y="506.20" font-size="8.59" text-anchor="start" fill="#111" transform="matrix(0.9434,0,0,1,5.779,0)">127(0)</text>
<text x="137.40" y="506.20" font-size="8.59" text-anchor="start" fill="#111" transform="matrix(0.9434,0,0,1,7.777,0)">100(3)</text>
<text x="172.80" y="506.20" font-size="8.59" text-anchor="start" fill="#111" transform="matrix(0.9434,0,0,1,9.781,0)">30(67)</text>
<text x="207.80" y="506.20" font-size="8.59" text-anchor="start" fill="#111" transform="matrix(0.9434,0,0,1,11.762,0)">5(91)</text>
<text x="241.20" y="506.20" font-size="8.59" text-anchor="start" fill="#111" transform="matrix(0.9434,0,0,1,13.653,0)">5(91)</text>
<text x="276.10" y="506.20" font-size="8.59" text-anchor="start" fill="#111" transform="matrix(0.9434,0,0,1,15.628,0)">0(95)</text>
<text x="1.90" y="516.90" font-size="8.59" text-anchor="start" fill="#111" transform="matrix(0.9434,0,0,1,0.108,0)">TILs high</text>
<text x="69.60" y="516.90" font-size="8.59" text-anchor="start" fill="#111" transform="matrix(0.9434,0,0,1,3.940,0)">89(0)</text>
<text x="102.10" y="516.90" font-size="8.59" text-anchor="start" fill="#111" transform="matrix(0.9434,0,0,1,5.779,0)">88(0)</text>
<text x="137.40" y="516.90" font-size="8.59" text-anchor="start" fill="#111" transform="matrix(0.9434,0,0,1,7.777,0)">71(0)</text>
<text x="172.80" y="516.90" font-size="8.59" text-anchor="start" fill="#111" transform="matrix(0.9434,0,0,1,9.781,0)">46(26)</text>
<text x="207.80" y="516.90" font-size="8.59" text-anchor="start" fill="#111" transform="matrix(0.9434,0,0,1,11.762,0)">2(66)</text>
<text x="241.20" y="516.90" font-size="8.59" text-anchor="start" fill="#111" transform="matrix(0.9434,0,0,1,13.653,0)">2(66)</text>
<text x="276.10" y="516.90" font-size="8.59" text-anchor="start" fill="#111" transform="matrix(0.9434,0,0,1,15.628,0)">0(68)</text>
<line x1="0" y1="519" x2="311" y2="519" stroke="#777" stroke-width="1.5"/>
<path d="M421.5,285.3V450.5H655.3" fill="none" stroke="#555" stroke-width="1.15" stroke-linejoin="miter"/>
<text x="419.40" y="296.10" font-size="8.48" text-anchor="end" fill="#111" transform="matrix(0.9434,0,0,1,23.740,0)">1.0</text>
<text x="419.40" y="325.65" font-size="8.48" text-anchor="end" fill="#111" transform="matrix(0.9434,0,0,1,23.740,0)">0.8</text>
<text x="419.40" y="355.20" font-size="8.48" text-anchor="end" fill="#111" transform="matrix(0.9434,0,0,1,23.740,0)">0.6</text>
<text x="419.40" y="384.75" font-size="8.48" text-anchor="end" fill="#111" transform="matrix(0.9434,0,0,1,23.740,0)">0.4</text>
<text x="419.40" y="414.30" font-size="8.48" text-anchor="end" fill="#111" transform="matrix(0.9434,0,0,1,23.740,0)">0.2</text>
<text x="419.40" y="443.85" font-size="8.48" text-anchor="end" fill="#111" transform="matrix(0.9434,0,0,1,23.740,0)">0.0</text>
<text x="435.90" y="459.30" font-size="8.48" text-anchor="middle" fill="#111" transform="matrix(0.9434,0,0,1,24.674,0)">.00</text>
<text x="472.80" y="459.30" font-size="8.48" text-anchor="middle" fill="#111" transform="matrix(0.9434,0,0,1,26.762,0)">20.00</text>
<text x="507.60" y="459.30" font-size="8.48" text-anchor="middle" fill="#111" transform="matrix(0.9434,0,0,1,28.732,0)">40.00</text>
<text x="543.20" y="459.30" font-size="8.48" text-anchor="middle" fill="#111" transform="matrix(0.9434,0,0,1,30.747,0)">60.00</text>
<text x="577.80" y="459.30" font-size="8.48" text-anchor="middle" fill="#111" transform="matrix(0.9434,0,0,1,32.706,0)">80.00</text>
<text x="614.00" y="459.30" font-size="8.48" text-anchor="middle" fill="#111" transform="matrix(0.9434,0,0,1,34.755,0)">100.00</text>
<text x="649.30" y="459.30" font-size="8.48" text-anchor="middle" fill="#111" transform="matrix(0.9434,0,0,1,36.753,0)">120.00</text>
<text x="543.20" y="469.70" font-size="9.5" text-anchor="middle" font-weight="bold" fill="#111" >Time since diagnosis</text>
<text x="401.40" y="368.60" font-size="9.5" text-anchor="middle" font-weight="bold" fill="#111" transform="rotate(-90 401.4 368.6)">Overall Survival (%)</text>
<text x="380.60" y="283.90" font-size="16.5" text-anchor="start" font-weight="bold" fill="#000" >d</text>
<path d="M433.5,293.5H463.5V295.5H477.5H478.5V296.5H483.5V297.5H485.5V298.5H487.5V300.5H489.5V301.5H494.5V303.5H495.5V304.5H497.5V306.5H498.5V307.5H499.5V308.5H500.5V309.5H501.5V311.5H503.5V312.5H504.5V313.5H505.5V314.5H509.5V316.5H520.5H525.5V317.5H525.5V319.5H643.5" fill="none" stroke="#3d9150" stroke-width="1.0"/>
<path d="M512.5,314.7V318.3M514.5,314.7V318.3M516.5,314.7V318.3M518.5,314.7V318.3M528.5,317.7V321.3M532.5,317.7V321.3M535.5,317.7V321.3M538.5,317.7V321.3M541.5,317.7V321.3M543.5,317.7V321.3M545.5,317.7V321.3M548.5,317.7V321.3M550.5,317.7V321.3M553.5,317.7V321.3M555.5,317.7V321.3M558.5,317.7V321.3M562.5,317.7V321.3M642.5,317.7V321.3M512.5,314.7V318.3M513.5,314.7V318.3M515.5,314.7V318.3M516.5,314.7V318.3M518.5,314.7V318.3M520.5,314.7V318.3M521.5,314.7V318.3M523.5,314.7V318.3M524.5,314.7V318.3M526.5,317.7V321.3M528.5,317.7V321.3M529.5,317.7V321.3M530.5,317.7V321.3M531.5,317.7V321.3M532.5,317.7V321.3M534.5,317.7V321.3M535.5,317.7V321.3M536.5,317.7V321.3M538.5,317.7V321.3M539.5,317.7V321.3M541.5,317.7V321.3M542.5,317.7V321.3M543.5,317.7V321.3M545.5,317.7V321.3M546.5,317.7V321.3M548.5,317.7V321.3M549.5,317.7V321.3M550.5,317.7V321.3M552.5,317.7V321.3M553.5,317.7V321.3M555.5,317.7V321.3M556.5,317.7V321.3M557.5,317.7V321.3M559.5,317.7V321.3M560.5,317.7V321.3M562.5,317.7V321.3" fill="none" stroke="#3d9150" stroke-width="1"/>
<path d="M446.5,294.5H449.5V295.5H458.5H459.5V297.5H465.5V297.5H469.5V298.5H473.5V300.5H476.5V301.5H478.5V302.5H479.5V303.5H481.5V304.5H482.5V306.5H484.5V307.5H486.5V309.5H488.5V310.5H489.5V311.5H491.5V312.5H492.5V313.5H493.5V315.5H494.5V316.5H495.5V317.5H497.5V318.5H498.5V320.5H501.5V321.5H504.5V323.5H508.5V324.5H513.5V325.5H515.5V327.5H517.5V328.5H520.5V329.5L524.40,329.20H525.5V331.5H544.5V337.5H643.5" fill="none" stroke="#c9223f" stroke-width="1.0"/>
<path d="M526.5,329.7V333.3M528.5,329.7V333.3M530.5,329.7V333.3M533.5,329.7V333.3M535.5,329.7V333.3M537.5,329.7V333.3M539.5,329.7V333.3M541.5,329.7V333.3M543.5,329.7V333.3M547.5,335.7V339.3M554.5,335.7V339.3M560.5,335.7V339.3M566.5,335.7V339.3M610.5,335.7V339.3M616.5,335.7V339.3M624.5,335.7V339.3M634.5,335.7V339.3M641.5,335.7V339.3M473.5,298.7V302.3M486.5,307.7V311.3M488.5,308.7V312.3M494.5,314.7V318.3M502.5,320.7V324.3M510.5,323.7V327.3M514.5,324.7V328.3M516.5,325.7V329.3M518.5,326.7V330.3M505.5,321.7V325.3M506.5,321.7V325.3M507.5,321.7V325.3M509.5,322.7V326.3M510.5,322.7V326.3M511.5,322.7V326.3M513.5,323.7V327.3M514.5,323.7V327.3M516.5,325.7V329.3M517.5,325.7V329.3M518.5,326.7V330.3M520.5,326.7V330.3M521.5,327.7V331.3M523.5,327.7V331.3M524.5,327.7V331.3M525.5,329.7V333.3M527.5,329.7V333.3M528.5,329.7V333.3M530.5,329.7V333.3M531.5,329.7V333.3M532.5,329.7V333.3M534.5,329.7V333.3M535.5,329.7V333.3M537.5,329.7V333.3M538.5,329.7V333.3M539.5,329.7V333.3M541.5,329.7V333.3M542.5,329.7V333.3M544.5,329.7V333.3" fill="none" stroke="#c9223f" stroke-width="1"/>
<path d="M443.5,293.5V296.5H449.5V299.5H462.5H463.5V300.5H464.5V301.5H466.5V302.5H467.5V303.5H468.5V305.5H468.5V306.5H468.5V307.5H469.5V309.5H469.5V310.5H469.5V312.5H469.5V313.5H469.5V314.5H470.5V316.5H473.5H474.5V317.5H474.5V318.5H475.5V320.5H475.5V321.5H476.5V322.5H476.5V323.5H476.5V325.5H477.5V326.5H477.5V328.5H481.5H482.5V329.5H482.5V331.5H492.5H493.5V332.5H493.5V334.5H494.5V335.5H497.5H498.5V336.5H499.5V337.5H500.5V339.5H500.5V340.5H530.5H530.5V341.5H530.5V342.5H531.5V344.5H531.5V345.5H541.5H541.5V346.5H541.5V347.5H541.5V349.5H541.5V350.5H558.5V358.5H644.5" fill="none" stroke="#74a3d8" stroke-width="1.0"/>
<path d="M464.5,299.7V303.3M479.5,326.7V330.3M492.5,329.7V333.3M513.5,338.7V342.3M517.5,338.7V342.3M522.5,338.7V342.3M524.5,338.7V342.3M526.5,338.7V342.3M533.5,343.7V347.3M537.5,343.7V347.3M546.5,348.7V352.3M549.5,348.7V352.3M551.5,348.7V352.3M567.5,356.7V360.3M574.5,356.7V360.3M580.5,356.7V360.3M586.5,356.7V360.3M596.5,356.7V360.3M599.5,356.7V360.3M631.5,356.7V360.3M640.5,356.7V360.3M643.5,356.7V360.3M512.5,338.7V342.3M513.5,338.7V342.3M515.5,338.7V342.3M516.5,338.7V342.3M518.5,338.7V342.3M520.5,338.7V342.3M521.5,338.7V342.3M523.5,338.7V342.3M524.5,338.7V342.3M526.5,338.7V342.3M528.5,338.7V342.3M529.5,338.7V342.3" fill="none" stroke="#74a3d8" stroke-width="1"/>
<text x="429.10" y="357.80" font-size="8.59" text-anchor="start" fill="#111" transform="matrix(0.9434,0,0,1,24.289,0)">log-rank p=0.013; n=272</text>
<text x="429.10" y="367.40" font-size="8.59" text-anchor="start" fill="#111" transform="matrix(0.9434,0,0,1,24.289,0)">TILs</text>
<text x="488.10" y="367.40" font-size="8.59" text-anchor="start" fill="#111" transform="matrix(0.9434,0,0,1,27.628,0)">Events n/N</text>
<text x="535.10" y="367.40" font-size="8.59" text-anchor="start" fill="#111" transform="matrix(0.9434,0,0,1,30.289,0)">HR</text>
<text x="565.60" y="367.40" font-size="8.59" text-anchor="start" fill="#111" transform="matrix(0.9434,0,0,1,32.015,0)">95% CI</text>
<line x1="429.1" y1="369.5" x2="604.5" y2="369.5" stroke="#555" stroke-width="1.0"/>
<text x="429.10" y="378.30" font-size="8.59" text-anchor="start" fill="#111" transform="matrix(0.9434,0,0,1,24.289,0)">Low</text>
<text x="488.10" y="378.30" font-size="8.59" text-anchor="start" fill="#111" transform="matrix(0.9434,0,0,1,27.628,0)">19/52</text>
<text x="535.10" y="378.30" font-size="8.59" text-anchor="start" fill="#111" transform="matrix(0.9434,0,0,1,30.289,0)">1.00</text>
<text x="565.60" y="378.30" font-size="8.59" text-anchor="start" fill="#111" transform="matrix(0.9434,0,0,1,32.015,0)">(Ref)</text>
<text x="429.10" y="387.00" font-size="8.59" text-anchor="start" fill="#111" transform="matrix(0.9434,0,0,1,24.289,0)">Intermediate</text>
<text x="488.10" y="387.00" font-size="8.59" text-anchor="start" fill="#111" transform="matrix(0.9434,0,0,1,27.628,0)">32/131</text>
<text x="535.10" y="387.00" font-size="8.59" text-anchor="start" fill="#111" transform="matrix(0.9434,0,0,1,30.289,0)">0.612</text>
<text x="565.60" y="387.00" font-size="8.59" text-anchor="start" fill="#111" transform="matrix(0.9434,0,0,1,32.015,0)">0.345-1.083</text>
<text x="429.10" y="395.80" font-size="8.59" text-anchor="start" fill="#111" transform="matrix(0.9434,0,0,1,24.289,0)">High</text>
<text x="488.10" y="395.80" font-size="8.59" text-anchor="start" fill="#111" transform="matrix(0.9434,0,0,1,27.628,0)">15/89</text>
<text x="535.10" y="395.80" font-size="8.59" text-anchor="start" fill="#111" transform="matrix(0.9434,0,0,1,30.289,0)">0.372</text>
<text x="565.60" y="395.80" font-size="8.59" text-anchor="start" fill="#111" transform="matrix(0.9434,0,0,1,32.015,0)">0.189-0.733</text>
<path d="M547.2,407.2 H551.9250000000001 V404.2 H557.7 V406.9" fill="none" stroke="#74a3d8" stroke-width="0.9"/>
<text x="559.50" y="408.80" font-size="6.88" text-anchor="start" fill="#111" transform="matrix(1.1628,0,0,1,-91.081,0)">TILs low</text>
<path d="M547.2,415.2 H551.9250000000001 V412.2 H557.7 V414.9" fill="none" stroke="#c9223f" stroke-width="0.9"/>
<text x="559.50" y="416.80" font-size="6.88" text-anchor="start" fill="#111" transform="matrix(1.1628,0,0,1,-91.081,0)">TILs intermediate</text>
<path d="M547.2,422.7 H551.9250000000001 V419.7 H557.7 V422.4" fill="none" stroke="#3d9150" stroke-width="0.9"/>
<text x="559.50" y="424.30" font-size="6.88" text-anchor="start" fill="#111" transform="matrix(1.1628,0,0,1,-91.081,0)">TILs high</text>
<path d="M547.2,428.79999999999995 H557.7 M552.45,426.09999999999997 V431.49999999999994" fill="none" stroke="#74a3d8" stroke-width="0.9"/>
<text x="559.50" y="431.90" font-size="6.88" text-anchor="start" fill="#111" transform="matrix(1.1628,0,0,1,-91.081,0)">TILs low-censored</text>
<path d="M547.2,436.09999999999997 H557.7 M552.45,433.4 V438.79999999999995" fill="none" stroke="#c9223f" stroke-width="0.9"/>
<text x="559.50" y="439.20" font-size="6.88" text-anchor="start" fill="#111" transform="matrix(1.1628,0,0,1,-91.081,0)">TILs intermediate-censored</text>
<path d="M547.2,443.59999999999997 H557.7 M552.45,440.9 V446.29999999999995" fill="none" stroke="#3d9150" stroke-width="0.9"/>
<text x="559.50" y="446.70" font-size="6.88" text-anchor="start" fill="#111" transform="matrix(1.1628,0,0,1,-91.081,0)">TILs high-censored</text>
<line x1="368.2" y1="474.5" x2="669.6" y2="474.5" stroke="#444" stroke-width="1.0"/>
<text x="368.70" y="482.60" font-size="8.59" text-anchor="start" fill="#111" transform="matrix(0.9434,0,0,1,20.870,0)">Number at risk (number censored)</text>
<line x1="368.2" y1="484.5" x2="669.6" y2="484.5" stroke="#c0c0c0" stroke-width="1.0"/>
<text x="368.90" y="493.30" font-size="8.59" text-anchor="start" fill="#111" transform="matrix(0.9434,0,0,1,20.881,0)">TILs low</text>
<text x="433.60" y="493.30" font-size="8.59" text-anchor="start" fill="#111" transform="matrix(0.9434,0,0,1,24.543,0)">52(0)</text>
<text x="466.30" y="493.30" font-size="8.59" text-anchor="start" fill="#111" transform="matrix(0.9434,0,0,1,26.394,0)">47(1)</text>
<text x="501.30" y="493.30" font-size="8.59" text-anchor="start" fill="#111" transform="matrix(0.9434,0,0,1,28.375,0)">33(3)</text>
<text x="536.50" y="493.30" font-size="8.59" text-anchor="start" fill="#111" transform="matrix(0.9434,0,0,1,30.368,0)">17(18)</text>
<text x="571.00" y="493.30" font-size="8.59" text-anchor="start" fill="#111" transform="matrix(0.9434,0,0,1,32.321,0)">9(26)</text>
<text x="604.80" y="493.30" font-size="8.59" text-anchor="start" fill="#111" transform="matrix(0.9434,0,0,1,34.234,0)">3(32)</text>
<text x="640.40" y="493.30" font-size="8.59" text-anchor="start" fill="#111" transform="matrix(0.9434,0,0,1,36.249,0)">0(35)</text>
<text x="368.90" y="504.90" font-size="8.59" text-anchor="start" fill="#111" transform="matrix(0.9434,0,0,1,20.881,0)">TILs intermediate</text>
<text x="433.60" y="504.90" font-size="8.59" text-anchor="start" fill="#111" transform="matrix(0.9434,0,0,1,24.543,0)">131(0)</text>
<text x="466.30" y="504.90" font-size="8.59" text-anchor="start" fill="#111" transform="matrix(0.9434,0,0,1,26.394,0)">127(0)</text>
<text x="501.30" y="504.90" font-size="8.59" text-anchor="start" fill="#111" transform="matrix(0.9434,0,0,1,28.375,0)">100(7)</text>
<text x="536.50" y="504.90" font-size="8.59" text-anchor="start" fill="#111" transform="matrix(0.9434,0,0,1,30.368,0)">30(71)</text>
<text x="571.00" y="504.90" font-size="8.59" text-anchor="start" fill="#111" transform="matrix(0.9434,0,0,1,32.321,0)">5(95)</text>
<text x="604.80" y="504.90" font-size="8.59" text-anchor="start" fill="#111" transform="matrix(0.9434,0,0,1,34.234,0)">5(95)</text>
<text x="640.40" y="504.90" font-size="8.59" text-anchor="start" fill="#111" transform="matrix(0.9434,0,0,1,36.249,0)">0(100)</text>
<text x="368.90" y="516.30" font-size="8.59" text-anchor="start" fill="#111" transform="matrix(0.9434,0,0,1,20.881,0)">TILs high</text>
<text x="433.60" y="516.30" font-size="8.59" text-anchor="start" fill="#111" transform="matrix(0.9434,0,0,1,24.543,0)">89(0)</text>
<text x="466.30" y="516.30" font-size="8.59" text-anchor="start" fill="#111" transform="matrix(0.9434,0,0,1,26.394,0)">88(0)</text>
<text x="501.30" y="516.30" font-size="8.59" text-anchor="start" fill="#111" transform="matrix(0.9434,0,0,1,28.375,0)">77(0)</text>
<text x="536.50" y="516.30" font-size="8.59" text-anchor="start" fill="#111" transform="matrix(0.9434,0,0,1,30.368,0)">42(32)</text>
<text x="571.00" y="516.30" font-size="8.59" text-anchor="start" fill="#111" transform="matrix(0.9434,0,0,1,32.321,0)">2(72)</text>
<text x="604.80" y="516.30" font-size="8.59" text-anchor="start" fill="#111" transform="matrix(0.9434,0,0,1,34.234,0)">2(72)</text>
<text x="640.40" y="516.30" font-size="8.59" text-anchor="start" fill="#111" transform="matrix(0.9434,0,0,1,36.249,0)">0(74)</text>
<line x1="368.2" y1="519" x2="669.6" y2="519" stroke="#777" stroke-width="1.5"/>
<path d="M59.5,553.1V717.5H292.4" fill="none" stroke="#555" stroke-width="1.15" stroke-linejoin="miter"/>
<text x="58.00" y="563.60" font-size="8.48" text-anchor="end" fill="#111" transform="matrix(0.9434,0,0,1,3.283,0)">1.0</text>
<text x="58.00" y="593.20" font-size="8.48" text-anchor="end" fill="#111" transform="matrix(0.9434,0,0,1,3.283,0)">0.8</text>
<text x="58.00" y="622.80" font-size="8.48" text-anchor="end" fill="#111" transform="matrix(0.9434,0,0,1,3.283,0)">0.6</text>
<text x="58.00" y="652.40" font-size="8.48" text-anchor="end" fill="#111" transform="matrix(0.9434,0,0,1,3.283,0)">0.4</text>
<text x="58.00" y="682.00" font-size="8.48" text-anchor="end" fill="#111" transform="matrix(0.9434,0,0,1,3.283,0)">0.2</text>
<text x="58.00" y="711.60" font-size="8.48" text-anchor="end" fill="#111" transform="matrix(0.9434,0,0,1,3.283,0)">0.0</text>
<text x="74.30" y="726.50" font-size="8.48" text-anchor="middle" fill="#111" transform="matrix(0.9434,0,0,1,4.206,0)">.00</text>
<text x="111.00" y="726.50" font-size="8.48" text-anchor="middle" fill="#111" transform="matrix(0.9434,0,0,1,6.283,0)">20.00</text>
<text x="145.30" y="726.50" font-size="8.48" text-anchor="middle" fill="#111" transform="matrix(0.9434,0,0,1,8.225,0)">40.00</text>
<text x="181.30" y="726.50" font-size="8.48" text-anchor="middle" fill="#111" transform="matrix(0.9434,0,0,1,10.262,0)">60.00</text>
<text x="216.20" y="726.50" font-size="8.48" text-anchor="middle" fill="#111" transform="matrix(0.9434,0,0,1,12.238,0)">80.00</text>
<text x="253.00" y="726.50" font-size="8.48" text-anchor="middle" fill="#111" transform="matrix(0.9434,0,0,1,14.321,0)">100.00</text>
<text x="287.10" y="726.50" font-size="8.48" text-anchor="middle" fill="#111" transform="matrix(0.9434,0,0,1,16.251,0)">120.00</text>
<text x="181.30" y="738.70" font-size="9.5" text-anchor="middle" font-weight="bold" fill="#111" >Time since diagnosis</text>
<text x="38.10" y="636.60" font-size="9.5" text-anchor="middle" font-weight="bold" fill="#111" transform="rotate(-90 38.1 636.6)">Disease-free Survival (%)</text>
<text x="5.10" y="547.20" font-size="16.5" text-anchor="start" font-weight="bold" fill="#000" >e</text>
<path d="M71.5,561.5H102.5V563.5H116.5H116.5V565.5L121.20,565.50H121.5V567.5H123.5V568.5H124.5V570.5H126.5V572.5H131.5H132.5V574.5H133.5V575.5H135.5V576.5H136.5V578.5H137.5V579.5H138.5V581.5H139.5V582.5H140.5V584.5H142.5V585.5H143.5V587.5H144.5V588.5H144.5V590.5H145.5V591.5H146.5V593.5H149.5H155.5V593.5H157.5V595.5H162.5V596.5H163.5V598.5H171.5V598.5H172.5V600.5H172.5V601.5H280.5" fill="none" stroke="#3d9150" stroke-width="1.0"/>
<path d="M151.5,591.7V595.3M153.5,591.7V595.3M155.5,591.7V595.3M158.5,593.7V597.3M160.5,594.7V598.3M161.5,594.7V598.3M164.5,596.7V600.3M167.5,596.7V600.3M171.5,596.7V600.3M174.5,599.7V603.3M176.5,599.7V603.3M178.5,599.7V603.3M180.5,599.7V603.3M182.5,599.7V603.3M184.5,599.7V603.3M186.5,599.7V603.3M188.5,599.7V603.3M191.5,599.7V603.3M194.5,599.7V603.3M196.5,599.7V603.3M279.5,599.7V603.3M150.5,591.7V595.3M151.5,591.7V595.3M153.5,591.7V595.3M154.5,591.7V595.3M156.5,591.7V595.3M157.5,593.7V597.3M159.5,593.7V597.3M161.5,593.7V597.3M162.5,594.7V598.3M164.5,596.7V600.3M165.5,596.7V600.3M167.5,596.7V600.3M169.5,596.7V600.3M170.5,596.7V600.3M173.5,599.7V603.3M174.5,599.7V603.3M175.5,599.7V603.3M176.5,599.7V603.3M178.5,599.7V603.3M179.5,599.7V603.3M180.5,599.7V603.3M182.5,599.7V603.3M183.5,599.7V603.3M184.5,599.7V603.3M186.5,599.7V603.3M187.5,599.7V603.3M188.5,599.7V603.3M189.5,599.7V603.3M191.5,599.7V603.3M192.5,599.7V603.3M193.5,599.7V603.3M195.5,599.7V603.3M196.5,599.7V603.3" fill="none" stroke="#3d9150" stroke-width="1"/>
<path d="M84.5,562.5H85.5V563.5H86.5V565.5H97.5H97.5V567.5H103.5V567.5H105.5V568.5H108.5V570.5H110.5V571.5H111.5V573.5H112.5V574.5H114.5V575.5H115.5V576.5H116.5V578.5H116.5V579.5H117.5V581.5H119.5V582.5H120.5V584.5H121.5V585.5H121.5V587.5H122.5V588.5H123.5V590.5H124.5V591.5H126.5V593.5H127.5V594.5H129.5V595.5H130.5V596.5H131.5V597.5H132.5V598.5H133.5V600.5H135.5V601.5H137.5V603.5H139.5V604.5H146.5V606.5H148.5V607.5H150.5V608.5H152.5V609.5H154.5V611.5H157.5V612.5H158.5V614.5H183.5V624.5H272.5V709.5" fill="none" stroke="#c9223f" stroke-width="1.0"/>
<path d="M160.5,612.7V616.3M161.5,612.7V616.3M163.5,612.7V616.3M165.5,612.7V616.3M166.5,612.7V616.3M167.5,612.7V616.3M174.5,612.7V616.3M176.5,612.7V616.3M179.5,612.7V616.3M180.5,612.7V616.3M181.5,612.7V616.3M185.5,622.7V626.3M193.5,622.7V626.3M194.5,622.7V626.3M204.5,622.7V626.3M248.5,622.7V626.3M123.5,588.7V592.3M139.5,602.7V606.3M146.5,604.7V608.3M150.5,605.7V609.3M152.5,607.7V611.3M140.5,602.7V606.3M141.5,602.7V606.3M142.5,602.7V606.3M144.5,602.7V606.3M145.5,602.7V606.3M147.5,604.7V608.3M148.5,605.7V609.3M149.5,605.7V609.3M151.5,606.7V610.3M152.5,606.7V610.3M154.5,607.7V611.3M155.5,609.7V613.3M156.5,609.7V613.3M158.5,610.7V614.3M159.5,612.7V616.3M161.5,612.7V616.3M162.5,612.7V616.3M163.5,612.7V616.3M165.5,612.7V616.3M166.5,612.7V616.3M168.5,612.7V616.3M169.5,612.7V616.3M170.5,612.7V616.3M172.5,612.7V616.3M173.5,612.7V616.3M175.5,612.7V616.3M176.5,612.7V616.3M177.5,612.7V616.3M179.5,612.7V616.3M180.5,612.7V616.3" fill="none" stroke="#c9223f" stroke-width="1"/>
<path d="M80.5,561.5V564.5H97.5H97.5V565.5H97.5V567.5H98.5V568.5H100.5V569.5H100.5V571.5H100.5V572.5H101.5V573.5H101.5V575.5H102.5V576.5H106.5V577.5H106.5V578.5H107.5V580.5H107.5V581.5H107.5V582.5H107.5V584.5H107.5V585.5H108.5V587.5H111.5V587.5H111.5V589.5H112.5V590.5H112.5V591.5H112.5V592.5H113.5V594.5H113.5V595.5H114.5V597.5H114.5V598.5H114.5V600.5H119.5H120.5V601.5H120.5V603.5H131.5V610.5H138.5H138.5V611.5H138.5V613.5H163.5H164.5V615.5H164.5V616.5H164.5V618.5H171.5H172.5V619.5H172.5V621.5H172.5V622.5H172.5V623.5H172.5V625.5H173.5V626.5H173.5V627.5H173.5V629.5H173.5V630.5H174.5V631.5H174.5V632.5H175.5V634.5H196.5V642.5H281.5" fill="none" stroke="#74a3d8" stroke-width="1.0"/>
<path d="M114.5,598.7V602.3M131.5,601.7V605.3M153.5,611.7V615.3M156.5,611.7V615.3M162.5,611.7V615.3M175.5,632.7V636.3M181.5,632.7V636.3M185.5,632.7V636.3M188.5,632.7V636.3M205.5,640.7V644.3M212.5,640.7V644.3M218.5,640.7V644.3M235.5,640.7V644.3M236.5,640.7V644.3M269.5,640.7V644.3M281.5,640.7V644.3M153.5,611.7V615.3M154.5,611.7V615.3M156.5,611.7V615.3M157.5,611.7V615.3M159.5,611.7V615.3M160.5,611.7V615.3M162.5,611.7V615.3M164.5,613.7V617.3" fill="none" stroke="#74a3d8" stroke-width="1"/>
<text x="68.10" y="641.00" font-size="8.59" text-anchor="start" fill="#111" transform="matrix(0.9434,0,0,1,3.855,0)">log-rank p=0.043; n=187</text>
<text x="68.10" y="650.60" font-size="8.59" text-anchor="start" fill="#111" transform="matrix(0.9434,0,0,1,3.855,0)">TILs</text>
<text x="121.80" y="650.60" font-size="8.59" text-anchor="start" fill="#111" transform="matrix(0.9434,0,0,1,6.894,0)">Events n/N</text>
<text x="170.70" y="650.60" font-size="8.59" text-anchor="start" fill="#111" transform="matrix(0.9434,0,0,1,9.662,0)">HR</text>
<text x="201.60" y="650.60" font-size="8.59" text-anchor="start" fill="#111" transform="matrix(0.9434,0,0,1,11.411,0)">95% CI</text>
<line x1="68.1" y1="652.5" x2="241.4" y2="652.5" stroke="#555" stroke-width="1.0"/>
<text x="68.10" y="661.80" font-size="8.59" text-anchor="start" fill="#111" transform="matrix(0.9434,0,0,1,3.855,0)">Low</text>
<text x="121.80" y="661.80" font-size="8.59" text-anchor="start" fill="#111" transform="matrix(0.9434,0,0,1,6.894,0)">21/46</text>
<text x="170.70" y="661.80" font-size="8.59" text-anchor="start" fill="#111" transform="matrix(0.9434,0,0,1,9.662,0)">1.00</text>
<text x="201.60" y="661.80" font-size="8.59" text-anchor="start" fill="#111" transform="matrix(0.9434,0,0,1,11.411,0)">(Ref)</text>
<text x="68.10" y="670.80" font-size="8.59" text-anchor="start" fill="#111" transform="matrix(0.9434,0,0,1,3.855,0)">Intermediate</text>
<text x="121.80" y="670.80" font-size="8.59" text-anchor="start" fill="#111" transform="matrix(0.9434,0,0,1,6.894,0)">27/72</text>
<text x="170.70" y="670.80" font-size="8.59" text-anchor="start" fill="#111" transform="matrix(0.9434,0,0,1,9.662,0)">0.791</text>
<text x="201.60" y="670.80" font-size="8.59" text-anchor="start" fill="#111" transform="matrix(0.9434,0,0,1,11.411,0)">0.446-1.404</text>
<text x="68.10" y="680.70" font-size="8.59" text-anchor="start" fill="#111" transform="matrix(0.9434,0,0,1,3.855,0)">High</text>
<text x="121.80" y="680.70" font-size="8.59" text-anchor="start" fill="#111" transform="matrix(0.9434,0,0,1,6.894,0)">18/69</text>
<text x="170.70" y="680.70" font-size="8.59" text-anchor="start" fill="#111" transform="matrix(0.9434,0,0,1,9.662,0)">0.460</text>
<text x="201.60" y="680.70" font-size="8.59" text-anchor="start" fill="#111" transform="matrix(0.9434,0,0,1,11.411,0)">0.245-0.865</text>
<path d="M69.2,692.6999999999999 H73.925 V689.6999999999999 H79.7 V692.4" fill="none" stroke="#74a3d8" stroke-width="0.9"/>
<text x="81.90" y="694.30" font-size="6.88" text-anchor="start" fill="#111" transform="matrix(1.1628,0,0,1,-13.333,0)">TILs low</text>
<path d="M69.2,700.8 H73.925 V697.8 H79.7 V700.5" fill="none" stroke="#c9223f" stroke-width="0.9"/>
<text x="81.90" y="702.40" font-size="6.88" text-anchor="start" fill="#111" transform="matrix(1.1628,0,0,1,-13.333,0)">TILs intermediate</text>
<path d="M69.2,707.3 H73.925 V704.3 H79.7 V707.0" fill="none" stroke="#3d9150" stroke-width="0.9"/>
<text x="81.90" y="708.90" font-size="6.88" text-anchor="start" fill="#111" transform="matrix(1.1628,0,0,1,-13.333,0)">TILs high</text>
<path d="M147.3,691.1999999999999 H157.8 M152.55,688.4999999999999 V693.9" fill="none" stroke="#74a3d8" stroke-width="0.9"/>
<text x="160.10" y="694.30" font-size="6.88" text-anchor="start" fill="#111" transform="matrix(1.1628,0,0,1,-26.063,0)">TILs low-censored</text>
<path d="M147.3,699.3 H157.8 M152.55,696.5999999999999 V702.0" fill="none" stroke="#c9223f" stroke-width="0.9"/>
<text x="160.10" y="702.40" font-size="6.88" text-anchor="start" fill="#111" transform="matrix(1.1628,0,0,1,-26.063,0)">TILs intermediate-censored</text>
<path d="M147.3,705.8 H157.8 M152.55,703.0999999999999 V708.5" fill="none" stroke="#3d9150" stroke-width="0.9"/>
<text x="160.10" y="708.90" font-size="6.88" text-anchor="start" fill="#111" transform="matrix(1.1628,0,0,1,-26.063,0)">TILs high-censored</text>
<line x1="0" y1="743.8" x2="309.5" y2="743.8" stroke="#8a8a8a" stroke-width="1.5"/>
<text x="0.50" y="752.40" font-size="8.59" text-anchor="start" fill="#111" transform="matrix(0.9434,0,0,1,0.028,0)">Number at risk (number censored)</text>
<line x1="0" y1="754.5" x2="309.5" y2="754.5" stroke="#b0b0b0" stroke-width="0.9"/>
<text x="1.20" y="762.70" font-size="8.59" text-anchor="start" fill="#111" transform="matrix(0.9434,0,0,1,0.068,0)">TILs low</text>
<text x="68.20" y="762.70" font-size="8.59" text-anchor="start" fill="#111" transform="matrix(0.9434,0,0,1,3.860,0)">46(0)</text>
<text x="100.90" y="762.70" font-size="8.59" text-anchor="start" fill="#111" transform="matrix(0.9434,0,0,1,5.711,0)">41(0)</text>
<text x="136.00" y="762.70" font-size="8.59" text-anchor="start" fill="#111" transform="matrix(0.9434,0,0,1,7.698,0)">28(2)</text>
<text x="171.00" y="762.70" font-size="8.59" text-anchor="start" fill="#111" transform="matrix(0.9434,0,0,1,9.679,0)">13(13)</text>
<text x="206.20" y="762.70" font-size="8.59" text-anchor="start" fill="#111" transform="matrix(0.9434,0,0,1,11.672,0)">6(21)</text>
<text x="239.80" y="762.70" font-size="8.59" text-anchor="start" fill="#111" transform="matrix(0.9434,0,0,1,13.574,0)">2(25)</text>
<text x="274.80" y="762.70" font-size="8.59" text-anchor="start" fill="#111" transform="matrix(0.9434,0,0,1,15.555,0)">0(27)</text>
<text x="1.20" y="774.40" font-size="8.59" text-anchor="start" fill="#111" transform="matrix(0.9434,0,0,1,0.068,0)">TILs intermediate</text>
<text x="68.20" y="774.40" font-size="8.59" text-anchor="start" fill="#111" transform="matrix(0.9434,0,0,1,3.860,0)">72(0)</text>
<text x="100.90" y="774.40" font-size="8.59" text-anchor="start" fill="#111" transform="matrix(0.9434,0,0,1,5.711,0)">68(0)</text>
<text x="136.00" y="774.40" font-size="8.59" text-anchor="start" fill="#111" transform="matrix(0.9434,0,0,1,7.698,0)">49(2)</text>
<text x="171.00" y="774.40" font-size="8.59" text-anchor="start" fill="#111" transform="matrix(0.9434,0,0,1,9.679,0)">19(28)</text>
<text x="206.20" y="774.40" font-size="8.59" text-anchor="start" fill="#111" transform="matrix(0.9434,0,0,1,11.672,0)">2(44)</text>
<text x="239.80" y="774.40" font-size="8.59" text-anchor="start" fill="#111" transform="matrix(0.9434,0,0,1,13.574,0)">2(44)</text>
<text x="274.80" y="774.40" font-size="8.59" text-anchor="start" fill="#111" transform="matrix(0.9434,0,0,1,15.555,0)">0(45)</text>
<text x="1.20" y="785.70" font-size="8.59" text-anchor="start" fill="#111" transform="matrix(0.9434,0,0,1,0.068,0)">TILs high</text>
<text x="68.20" y="785.70" font-size="8.59" text-anchor="start" fill="#111" transform="matrix(0.9434,0,0,1,3.860,0)">69(0)</text>
<text x="100.90" y="785.70" font-size="8.59" text-anchor="start" fill="#111" transform="matrix(0.9434,0,0,1,5.711,0)">68(0)</text>
<text x="136.00" y="785.70" font-size="8.59" text-anchor="start" fill="#111" transform="matrix(0.9434,0,0,1,7.698,0)">58(0)</text>
<text x="171.00" y="785.70" font-size="8.59" text-anchor="start" fill="#111" transform="matrix(0.9434,0,0,1,9.679,0)">31(20)</text>
<text x="206.20" y="785.70" font-size="8.59" text-anchor="start" fill="#111" transform="matrix(0.9434,0,0,1,11.672,0)">1(50)</text>
<text x="239.80" y="785.70" font-size="8.59" text-anchor="start" fill="#111" transform="matrix(0.9434,0,0,1,13.574,0)">1(50)</text>
<text x="274.80" y="785.70" font-size="8.59" text-anchor="start" fill="#111" transform="matrix(0.9434,0,0,1,15.555,0)">0(51)</text>
<line x1="0" y1="788.5" x2="309.5" y2="788.5" stroke="#333" stroke-width="1.2"/>
<path d="M421.5,553.1V717.5H655.3" fill="none" stroke="#555" stroke-width="1.15" stroke-linejoin="miter"/>
<text x="419.60" y="563.60" font-size="8.48" text-anchor="end" fill="#111" transform="matrix(0.9434,0,0,1,23.751,0)">1.0</text>
<text x="419.60" y="593.10" font-size="8.48" text-anchor="end" fill="#111" transform="matrix(0.9434,0,0,1,23.751,0)">0.8</text>
<text x="419.60" y="622.60" font-size="8.48" text-anchor="end" fill="#111" transform="matrix(0.9434,0,0,1,23.751,0)">0.6</text>
<text x="419.60" y="652.10" font-size="8.48" text-anchor="end" fill="#111" transform="matrix(0.9434,0,0,1,23.751,0)">0.4</text>
<text x="419.60" y="681.60" font-size="8.48" text-anchor="end" fill="#111" transform="matrix(0.9434,0,0,1,23.751,0)">0.2</text>
<text x="419.60" y="711.10" font-size="8.48" text-anchor="end" fill="#111" transform="matrix(0.9434,0,0,1,23.751,0)">0.0</text>
<text x="435.90" y="726.60" font-size="8.48" text-anchor="middle" fill="#111" transform="matrix(0.9434,0,0,1,24.674,0)">.00</text>
<text x="472.10" y="726.60" font-size="8.48" text-anchor="middle" fill="#111" transform="matrix(0.9434,0,0,1,26.723,0)">20.00</text>
<text x="507.20" y="726.60" font-size="8.48" text-anchor="middle" fill="#111" transform="matrix(0.9434,0,0,1,28.709,0)">40.00</text>
<text x="543.20" y="726.60" font-size="8.48" text-anchor="middle" fill="#111" transform="matrix(0.9434,0,0,1,30.747,0)">60.00</text>
<text x="577.80" y="726.60" font-size="8.48" text-anchor="middle" fill="#111" transform="matrix(0.9434,0,0,1,32.706,0)">80.00</text>
<text x="614.00" y="726.60" font-size="8.48" text-anchor="middle" fill="#111" transform="matrix(0.9434,0,0,1,34.755,0)">100.00</text>
<text x="649.30" y="726.60" font-size="8.48" text-anchor="middle" fill="#111" transform="matrix(0.9434,0,0,1,36.753,0)">120.00</text>
<text x="544.00" y="738.90" font-size="9.5" text-anchor="middle" font-weight="bold" fill="#111" >Time since diagnosis</text>
<text x="402.30" y="636.40" font-size="9.5" text-anchor="middle" font-weight="bold" fill="#111" transform="rotate(-90 402.3 636.4)">Overall Survival (%)</text>
<text x="381.30" y="546.80" font-size="16.5" text-anchor="start" font-weight="bold" fill="#000" >f</text>
<path d="M433.5,561.5H463.5V563.5H477.5H478.5V565.5L483.30,565.50H484.5V567.5H485.5V568.5H487.5V569.5H488.5V570.5H489.5V572.5H492.5H493.5V573.5H493.5V574.5H495.5V575.5H497.5V576.5H497.5V578.5H498.5V579.5H498.5V580.5H499.5V582.5H500.5V583.5H503.5V584.5H507.5V586.5H508.5V587.5H510.5V589.5H524.5H524.5V590.5H525.5V592.5H643.5" fill="none" stroke="#3d9150" stroke-width="1.0"/>
<path d="M512.5,587.7V591.3M514.5,587.7V591.3M516.5,587.7V591.3M518.5,587.7V591.3M520.5,587.7V591.3M522.5,587.7V591.3M524.5,587.7V591.3M525.5,590.7V594.3M529.5,590.7V594.3M533.5,590.7V594.3M535.5,590.7V594.3M540.5,590.7V594.3M542.5,590.7V594.3M544.5,590.7V594.3M545.5,590.7V594.3M547.5,590.7V594.3M549.5,590.7V594.3M552.5,590.7V594.3M554.5,590.7V594.3M557.5,590.7V594.3M558.5,590.7V594.3M641.5,590.7V594.3M512.5,587.7V591.3M513.5,587.7V591.3M515.5,587.7V591.3M516.5,587.7V591.3M518.5,587.7V591.3M520.5,587.7V591.3M521.5,587.7V591.3M523.5,587.7V591.3M524.5,587.7V591.3M525.5,588.7V592.3M526.5,590.7V594.3M527.5,590.7V594.3M529.5,590.7V594.3M530.5,590.7V594.3M531.5,590.7V594.3M533.5,590.7V594.3M534.5,590.7V594.3M536.5,590.7V594.3M537.5,590.7V594.3M538.5,590.7V594.3M540.5,590.7V594.3M541.5,590.7V594.3M543.5,590.7V594.3M544.5,590.7V594.3M545.5,590.7V594.3M547.5,590.7V594.3M548.5,590.7V594.3M550.5,590.7V594.3M551.5,590.7V594.3M552.5,590.7V594.3M554.5,590.7V594.3M555.5,590.7V594.3M557.5,590.7V594.3M558.5,590.7V594.3" fill="none" stroke="#3d9150" stroke-width="1"/>
<path d="M446.5,561.5H446.5V563.5H447.5V564.5H449.5V565.5L458.50,565.50H459.5V567.5H465.5V567.5H466.5V569.5H472.5V571.5H473.5V572.5H475.5V573.5H476.5V574.5H478.5V576.5H478.5V577.5H479.5V579.5H480.5V580.5H482.5V581.5H484.5V582.5H484.5V584.5H485.5V585.5H486.5V587.5H488.5V588.5H492.5V589.5H493.5V590.5H494.5V592.5H498.5V593.5H503.5V595.5H504.5V596.5H505.5V597.5H509.5V598.5H513.5V599.5H513.5V600.5H514.5V602.5H517.5V603.5H520.5V604.5H524.5H525.5V605.5H525.5V607.5H544.5V618.5H643.5" fill="none" stroke="#c9223f" stroke-width="1.0"/>
<path d="M528.5,605.7V609.3M529.5,605.7V609.3M534.5,605.7V609.3M536.5,605.7V609.3M538.5,605.7V609.3M541.5,605.7V609.3M543.5,605.7V609.3M547.5,616.7V620.3M547.5,616.7V620.3M554.5,616.7V620.3M556.5,616.7V620.3M566.5,616.7V620.3M610.5,616.7V620.3M641.5,616.7V620.3M474.5,570.7V574.3M486.5,585.7V589.3M494.5,590.7V594.3M500.5,592.7V596.3M502.5,592.7V596.3M510.5,597.7V601.3M514.5,599.7V603.3M518.5,602.7V606.3M521.5,602.7V606.3M505.5,594.7V598.3M506.5,595.7V599.3M507.5,595.7V599.3M509.5,595.7V599.3M510.5,596.7V600.3M511.5,596.7V600.3M513.5,597.7V601.3M514.5,600.7V604.3M516.5,600.7V604.3M517.5,600.7V604.3M518.5,601.7V605.3M520.5,601.7V605.3M521.5,602.7V606.3M523.5,602.7V606.3M524.5,602.7V606.3M525.5,605.7V609.3M527.5,605.7V609.3M528.5,605.7V609.3M530.5,605.7V609.3M531.5,605.7V609.3M532.5,605.7V609.3M534.5,605.7V609.3M535.5,605.7V609.3M537.5,605.7V609.3M538.5,605.7V609.3M539.5,605.7V609.3M541.5,605.7V609.3M542.5,605.7V609.3M544.5,605.7V609.3" fill="none" stroke="#c9223f" stroke-width="1"/>
<path d="M443.5,561.5V564.5H462.5H463.5V565.5H464.5V567.5H465.5V568.5H466.5V569.5H467.5V570.5H468.5V571.5H468.5V573.5H468.5V574.5H468.5V575.5H468.5V576.5H468.5V578.5H468.5V579.5H469.5V581.5H469.5V582.5H469.5V584.5H473.5V584.5H474.5V586.5H474.5V587.5H474.5V588.5H474.5V590.5H475.5V591.5H475.5V592.5H475.5V594.5H476.5V595.5H476.5V597.5H481.5H481.5V598.5H481.5V600.5H492.5V601.5H493.5V602.5H493.5V603.5H494.5V604.5H497.5V606.5H497.5V607.5H498.5V608.5H499.5V609.5H500.5V611.5H531.5H531.5V612.5H531.5V613.5H531.5V615.5H531.5V616.5H541.5H541.5V617.5H541.5V619.5H541.5V620.5H541.5V622.5H558.5V632.5H644.5" fill="none" stroke="#74a3d8" stroke-width="1.0"/>
<path d="M464.5,565.7V569.3M479.5,595.7V599.3M491.5,599.7V603.3M516.5,609.7V613.3M518.5,609.7V613.3M521.5,609.7V613.3M523.5,609.7V613.3M524.5,609.7V613.3M526.5,609.7V613.3M531.5,614.7V618.3M534.5,614.7V618.3M537.5,614.7V618.3M543.5,620.7V624.3M547.5,620.7V624.3M549.5,620.7V624.3M567.5,630.7V634.3M574.5,630.7V634.3M579.5,630.7V634.3M596.5,630.7V634.3M599.5,630.7V634.3M631.5,630.7V634.3M643.5,630.7V634.3M516.5,609.7V613.3M517.5,609.7V613.3M519.5,609.7V613.3M520.5,609.7V613.3M522.5,609.7V613.3M524.5,609.7V613.3M525.5,609.7V613.3M527.5,609.7V613.3" fill="none" stroke="#74a3d8" stroke-width="1"/>
<text x="424.70" y="631.80" font-size="8.59" text-anchor="start" fill="#111" transform="matrix(0.9434,0,0,1,24.040,0)">log-rank p=0.045; n=187</text>
<text x="424.70" y="641.40" font-size="8.59" text-anchor="start" fill="#111" transform="matrix(0.9434,0,0,1,24.040,0)">TILs</text>
<text x="477.50" y="641.40" font-size="8.59" text-anchor="start" fill="#111" transform="matrix(0.9434,0,0,1,27.028,0)">Events n/N</text>
<text x="523.80" y="641.40" font-size="8.59" text-anchor="start" fill="#111" transform="matrix(0.9434,0,0,1,29.649,0)">HR</text>
<text x="550.00" y="641.40" font-size="8.59" text-anchor="start" fill="#111" transform="matrix(0.9434,0,0,1,31.132,0)">95% CI</text>
<line x1="424.7" y1="644.5" x2="592.1" y2="644.5" stroke="#555" stroke-width="1.0"/>
<text x="424.70" y="652.60" font-size="8.59" text-anchor="start" fill="#111" transform="matrix(0.9434,0,0,1,24.040,0)">Low</text>
<text x="477.50" y="652.60" font-size="8.59" text-anchor="start" fill="#111" transform="matrix(0.9434,0,0,1,27.028,0)">18/46</text>
<text x="523.80" y="652.60" font-size="8.59" text-anchor="start" fill="#111" transform="matrix(0.9434,0,0,1,29.649,0)">1.00</text>
<text x="550.00" y="652.60" font-size="8.59" text-anchor="start" fill="#111" transform="matrix(0.9434,0,0,1,31.132,0)">(Ref)</text>
<text x="424.70" y="660.80" font-size="8.59" text-anchor="start" fill="#111" transform="matrix(0.9434,0,0,1,24.040,0)">Intermediate</text>
<text x="477.50" y="660.80" font-size="8.59" text-anchor="start" fill="#111" transform="matrix(0.9434,0,0,1,27.028,0)">22/72</text>
<text x="523.80" y="660.80" font-size="8.59" text-anchor="start" fill="#111" transform="matrix(0.9434,0,0,1,29.649,0)">0.751</text>
<text x="550.00" y="660.80" font-size="8.59" text-anchor="start" fill="#111" transform="matrix(0.9434,0,0,1,31.132,0)">0.401-1.406</text>
<text x="424.70" y="667.80" font-size="8.59" text-anchor="start" fill="#111" transform="matrix(0.9434,0,0,1,24.040,0)">High</text>
<text x="477.50" y="667.80" font-size="8.59" text-anchor="start" fill="#111" transform="matrix(0.9434,0,0,1,27.028,0)">14/69</text>
<text x="523.80" y="667.80" font-size="8.59" text-anchor="start" fill="#111" transform="matrix(0.9434,0,0,1,29.649,0)">0.422</text>
<text x="550.00" y="667.80" font-size="8.59" text-anchor="start" fill="#111" transform="matrix(0.9434,0,0,1,31.132,0)">0.209-0.850</text>
<path d="M574.2,674.9 H578.9250000000001 V671.9 H584.7 V674.6" fill="none" stroke="#74a3d8" stroke-width="0.9"/>
<text x="586.10" y="676.50" font-size="6.88" text-anchor="start" fill="#111" transform="matrix(1.1628,0,0,1,-95.412,0)">TILs low</text>
<path d="M574.2,683.1 H578.9250000000001 V680.1 H584.7 V682.8000000000001" fill="none" stroke="#c9223f" stroke-width="0.9"/>
<text x="586.10" y="684.70" font-size="6.88" text-anchor="start" fill="#111" transform="matrix(1.1628,0,0,1,-95.412,0)">TILs intermediate</text>
<path d="M574.2,690.0 H578.9250000000001 V687.0 H584.7 V689.7" fill="none" stroke="#3d9150" stroke-width="0.9"/>
<text x="586.10" y="691.60" font-size="6.88" text-anchor="start" fill="#111" transform="matrix(1.1628,0,0,1,-95.412,0)">TILs high</text>
<path d="M574.2,696.6999999999999 H584.7 M579.45,693.9999999999999 V699.4" fill="none" stroke="#74a3d8" stroke-width="0.9"/>
<text x="586.10" y="699.80" font-size="6.88" text-anchor="start" fill="#111" transform="matrix(1.1628,0,0,1,-95.412,0)">TILs low-censored</text>
<path d="M574.2,704.0 H584.7 M579.45,701.3 V706.7" fill="none" stroke="#c9223f" stroke-width="0.9"/>
<text x="586.10" y="707.10" font-size="6.88" text-anchor="start" fill="#111" transform="matrix(1.1628,0,0,1,-95.412,0)">TILs intermediate-censored</text>
<path d="M574.2,710.8 H584.7 M579.45,708.0999999999999 V713.5" fill="none" stroke="#3d9150" stroke-width="0.9"/>
<text x="586.10" y="713.90" font-size="6.88" text-anchor="start" fill="#111" transform="matrix(1.1628,0,0,1,-95.412,0)">TILs high-censored</text>
<line x1="366.5" y1="744" x2="672" y2="744" stroke="#8a8a8a" stroke-width="1.5"/>
<text x="367.00" y="752.30" font-size="8.59" text-anchor="start" fill="#111" transform="matrix(0.9434,0,0,1,20.774,0)">Number at risk (number censored)</text>
<line x1="366.5" y1="754.5" x2="672" y2="754.5" stroke="#b0b0b0" stroke-width="0.9"/>
<text x="367.00" y="763.20" font-size="8.59" text-anchor="start" fill="#111" transform="matrix(0.9434,0,0,1,20.774,0)">TILs low</text>
<text x="430.10" y="763.20" font-size="8.59" text-anchor="start" fill="#111" transform="matrix(0.9434,0,0,1,24.345,0)">46(0)</text>
<text x="462.80" y="763.20" font-size="8.59" text-anchor="start" fill="#111" transform="matrix(0.9434,0,0,1,26.196,0)">42(1)</text>
<text x="497.80" y="763.20" font-size="8.59" text-anchor="start" fill="#111" transform="matrix(0.9434,0,0,1,28.177,0)">28(3)</text>
<text x="533.20" y="763.20" font-size="8.59" text-anchor="start" fill="#111" transform="matrix(0.9434,0,0,1,30.181,0)">14(16)</text>
<text x="567.50" y="763.20" font-size="8.59" text-anchor="start" fill="#111" transform="matrix(0.9434,0,0,1,32.123,0)">6(22)</text>
<text x="602.10" y="763.20" font-size="8.59" text-anchor="start" fill="#111" transform="matrix(0.9434,0,0,1,34.081,0)">2(26)</text>
<text x="637.20" y="763.20" font-size="8.59" text-anchor="start" fill="#111" transform="matrix(0.9434,0,0,1,36.068,0)">0(28)</text>
<text x="367.00" y="774.30" font-size="8.59" text-anchor="start" fill="#111" transform="matrix(0.9434,0,0,1,20.774,0)">TILs intermediate</text>
<text x="430.10" y="774.30" font-size="8.59" text-anchor="start" fill="#111" transform="matrix(0.9434,0,0,1,24.345,0)">72(0)</text>
<text x="462.80" y="774.30" font-size="8.59" text-anchor="start" fill="#111" transform="matrix(0.9434,0,0,1,26.196,0)">68(0)</text>
<text x="497.80" y="774.30" font-size="8.59" text-anchor="start" fill="#111" transform="matrix(0.9434,0,0,1,28.177,0)">49(7)</text>
<text x="533.20" y="774.30" font-size="8.59" text-anchor="start" fill="#111" transform="matrix(0.9434,0,0,1,30.181,0)">19(33)</text>
<text x="567.50" y="774.30" font-size="8.59" text-anchor="start" fill="#111" transform="matrix(0.9434,0,0,1,32.123,0)">2(49)</text>
<text x="602.10" y="774.30" font-size="8.59" text-anchor="start" fill="#111" transform="matrix(0.9434,0,0,1,34.081,0)">2(49)</text>
<text x="637.20" y="774.30" font-size="8.59" text-anchor="start" fill="#111" transform="matrix(0.9434,0,0,1,36.068,0)">0(51)</text>
<text x="367.00" y="785.90" font-size="8.59" text-anchor="start" fill="#111" transform="matrix(0.9434,0,0,1,20.774,0)">TILs high</text>
<text x="430.10" y="785.90" font-size="8.59" text-anchor="start" fill="#111" transform="matrix(0.9434,0,0,1,24.345,0)">69(0)</text>
<text x="462.80" y="785.90" font-size="8.59" text-anchor="start" fill="#111" transform="matrix(0.9434,0,0,1,26.196,0)">68(0)</text>
<text x="497.80" y="785.90" font-size="8.59" text-anchor="start" fill="#111" transform="matrix(0.9434,0,0,1,28.177,0)">58(0)</text>
<text x="533.20" y="785.90" font-size="8.59" text-anchor="start" fill="#111" transform="matrix(0.9434,0,0,1,30.181,0)">31(24)</text>
<text x="567.50" y="785.90" font-size="8.59" text-anchor="start" fill="#111" transform="matrix(0.9434,0,0,1,32.123,0)">1(54)</text>
<text x="602.10" y="785.90" font-size="8.59" text-anchor="start" fill="#111" transform="matrix(0.9434,0,0,1,34.081,0)">1(54)</text>
<text x="637.20" y="785.90" font-size="8.59" text-anchor="start" fill="#111" transform="matrix(0.9434,0,0,1,36.068,0)">0(55)</text>
<line x1="366.5" y1="788.5" x2="672" y2="788.5" stroke="#333" stroke-width="1.2"/>
<path d="M60.5,814V978.5H293.8" fill="none" stroke="#444" stroke-width="1.15" stroke-linejoin="miter"/>
<text x="58.00" y="824.00" font-size="8.48" text-anchor="end" fill="#111" transform="matrix(0.9434,0,0,1,3.283,0)">1.0</text>
<text x="58.00" y="853.70" font-size="8.48" text-anchor="end" fill="#111" transform="matrix(0.9434,0,0,1,3.283,0)">0.8</text>
<text x="58.00" y="883.40" font-size="8.48" text-anchor="end" fill="#111" transform="matrix(0.9434,0,0,1,3.283,0)">0.6</text>
<text x="58.00" y="913.10" font-size="8.48" text-anchor="end" fill="#111" transform="matrix(0.9434,0,0,1,3.283,0)">0.4</text>
<text x="58.00" y="942.80" font-size="8.48" text-anchor="end" fill="#111" transform="matrix(0.9434,0,0,1,3.283,0)">0.2</text>
<text x="58.00" y="972.50" font-size="8.48" text-anchor="end" fill="#111" transform="matrix(0.9434,0,0,1,3.283,0)">0.0</text>
<text x="74.70" y="987.70" font-size="8.48" text-anchor="middle" fill="#111" transform="matrix(0.9434,0,0,1,4.228,0)">.00</text>
<text x="111.70" y="987.70" font-size="8.48" text-anchor="middle" fill="#111" transform="matrix(0.9434,0,0,1,6.323,0)">20.00</text>
<text x="146.00" y="987.70" font-size="8.48" text-anchor="middle" fill="#111" transform="matrix(0.9434,0,0,1,8.264,0)">40.00</text>
<text x="182.00" y="987.70" font-size="8.48" text-anchor="middle" fill="#111" transform="matrix(0.9434,0,0,1,10.302,0)">60.00</text>
<text x="217.00" y="987.70" font-size="8.48" text-anchor="middle" fill="#111" transform="matrix(0.9434,0,0,1,12.283,0)">80.00</text>
<text x="253.00" y="987.70" font-size="8.48" text-anchor="middle" fill="#111" transform="matrix(0.9434,0,0,1,14.321,0)">100.00</text>
<text x="287.90" y="987.70" font-size="8.48" text-anchor="middle" fill="#111" transform="matrix(0.9434,0,0,1,16.296,0)">120.00</text>
<text x="181.30" y="998.70" font-size="9.5" text-anchor="middle" font-weight="bold" fill="#111" >Time since diagnosis</text>
<text x="38.00" y="890.20" font-size="9.5" text-anchor="middle" font-weight="bold" fill="#111" transform="rotate(-90 38 890.2)">Disease-free Survival (%)</text>
<text x="4.60" y="810.00" font-size="16.5" text-anchor="start" font-weight="bold" fill="#000" >g</text>
<path d="M72.5,822.5H88.5V846.5H222.5V887.5H280.5" fill="none" stroke="#74a3d8" stroke-width="1.0"/>
<path d="M152.5,844.7V848.3M236.5,885.7V889.3M280.5,885.7V889.3" fill="none" stroke="#74a3d8" stroke-width="1"/>
<path d="M72.5,822.5H117.5V824.5H126.5H127.5V826.5H129.5V827.5H130.5V829.5H133.5V830.5H133.5V831.5H134.5V832.5H134.5V834.5H137.5V834.5H137.5V835.5H138.5V837.5H138.5V838.5H139.5V839.5H139.5V840.5H140.5V841.5H143.5V842.5V844.5H154.5H154.5V845.5H155.5V847.5H156.5V848.5H274.5" fill="none" stroke="#c9223f" stroke-width="1.0"/>
<path d="M147.5,842.7V846.3M151.5,842.7V846.3M153.5,842.7V846.3M154.5,842.7V846.3M155.5,842.7V846.3M156.5,842.7V846.3M157.5,846.7V850.3M164.5,846.7V850.3M165.5,846.7V850.3M166.5,846.7V850.3M170.5,846.7V850.3M171.5,846.7V850.3M174.5,846.7V850.3M175.5,846.7V850.3M178.5,846.7V850.3M180.5,846.7V850.3M185.5,846.7V850.3M193.5,846.7V850.3M193.5,846.7V850.3M199.5,846.7V850.3M199.5,846.7V850.3M255.5,846.7V850.3M263.5,846.7V850.3M273.5,846.7V850.3M145.5,842.7V846.3M146.5,842.7V846.3M147.5,842.7V846.3M148.5,842.7V846.3M149.5,842.7V846.3M150.5,842.7V846.3M152.5,842.7V846.3M153.5,842.7V846.3M154.5,842.7V846.3M155.5,843.7V847.3M156.5,846.7V850.3M157.5,846.7V850.3M158.5,846.7V850.3M160.5,846.7V850.3M161.5,846.7V850.3M163.5,846.7V850.3M164.5,846.7V850.3M166.5,846.7V850.3M168.5,846.7V850.3M169.5,846.7V850.3M171.5,846.7V850.3M172.5,846.7V850.3M174.5,846.7V850.3M176.5,846.7V850.3M177.5,846.7V850.3M179.5,846.7V850.3M180.5,846.7V850.3" fill="none" stroke="#c9223f" stroke-width="1"/>
<path d="M72.5,822.5H142.5V829.5H148.5V836.5H155.5V844.5H277.5" fill="none" stroke="#3d9150" stroke-width="1.0"/>
<path d="M164.5,842.7V846.3M168.5,842.7V846.3M176.5,842.7V846.3M180.5,842.7V846.3M181.5,842.7V846.3M182.5,842.7V846.3M186.5,842.7V846.3M194.5,842.7V846.3M195.5,842.7V846.3M201.5,842.7V846.3M276.5,842.7V846.3M178.5,842.7V846.3M179.5,842.7V846.3M180.5,842.7V846.3M181.5,842.7V846.3M182.5,842.7V846.3M183.5,842.7V846.3" fill="none" stroke="#3d9150" stroke-width="1"/>
<text x="64.90" y="889.70" font-size="8.59" text-anchor="start" fill="#111" transform="matrix(0.9434,0,0,1,3.674,0)">log-rank p=0.770; n=85</text>
<text x="64.90" y="899.40" font-size="8.59" text-anchor="start" fill="#111" transform="matrix(0.9434,0,0,1,3.674,0)">TILs</text>
<text x="120.70" y="899.40" font-size="8.59" text-anchor="start" fill="#111" transform="matrix(0.9434,0,0,1,6.832,0)">Events n/N</text>
<text x="167.60" y="899.40" font-size="8.59" text-anchor="start" fill="#111" transform="matrix(0.9434,0,0,1,9.487,0)">HR</text>
<text x="202.20" y="899.40" font-size="8.59" text-anchor="start" fill="#111" transform="matrix(0.9434,0,0,1,11.445,0)">95% CI</text>
<line x1="64.9" y1="902.5" x2="248.6" y2="902.5" stroke="#555" stroke-width="1.0"/>
<text x="64.90" y="911.10" font-size="8.59" text-anchor="start" fill="#111" transform="matrix(0.9434,0,0,1,3.674,0)">Low</text>
<text x="120.70" y="911.10" font-size="8.59" text-anchor="start" fill="#111" transform="matrix(0.9434,0,0,1,6.832,0)">2/6</text>
<text x="167.60" y="911.10" font-size="8.59" text-anchor="start" fill="#111" transform="matrix(0.9434,0,0,1,9.487,0)">1.00</text>
<text x="202.20" y="911.10" font-size="8.59" text-anchor="start" fill="#111" transform="matrix(0.9434,0,0,1,11.445,0)">(Ref)</text>
<text x="64.90" y="920.10" font-size="8.59" text-anchor="start" fill="#111" transform="matrix(0.9434,0,0,1,3.674,0)">Intermediate</text>
<text x="120.70" y="920.10" font-size="8.59" text-anchor="start" fill="#111" transform="matrix(0.9434,0,0,1,6.832,0)">10/59</text>
<text x="167.60" y="920.10" font-size="8.59" text-anchor="start" fill="#111" transform="matrix(0.9434,0,0,1,9.487,0)">0.635</text>
<text x="202.20" y="920.10" font-size="8.59" text-anchor="start" fill="#111" transform="matrix(0.9434,0,0,1,11.445,0)">0.128-3.161</text>
<text x="64.90" y="928.00" font-size="8.59" text-anchor="start" fill="#111" transform="matrix(0.9434,0,0,1,3.674,0)">High</text>
<text x="120.70" y="928.00" font-size="8.59" text-anchor="start" fill="#111" transform="matrix(0.9434,0,0,1,6.832,0)">3/20</text>
<text x="167.60" y="928.00" font-size="8.59" text-anchor="start" fill="#111" transform="matrix(0.9434,0,0,1,9.487,0)">0.506</text>
<text x="202.20" y="928.00" font-size="8.59" text-anchor="start" fill="#111" transform="matrix(0.9434,0,0,1,11.445,0)">0.078-3.270</text>
<path d="M211.8,935.6999999999999 H216.525 V932.6999999999999 H222.3 V935.4" fill="none" stroke="#74a3d8" stroke-width="0.9"/>
<text x="224.10" y="937.30" font-size="6.88" text-anchor="start" fill="#111" transform="matrix(1.1628,0,0,1,-36.481,0)">TILs low</text>
<path d="M211.8,944.1999999999999 H216.525 V941.1999999999999 H222.3 V943.9" fill="none" stroke="#c9223f" stroke-width="0.9"/>
<text x="224.10" y="945.80" font-size="6.88" text-anchor="start" fill="#111" transform="matrix(1.1628,0,0,1,-36.481,0)">TILs intermediate</text>
<path d="M211.8,951.4 H216.525 V948.4 H222.3 V951.1" fill="none" stroke="#3d9150" stroke-width="0.9"/>
<text x="224.10" y="953.00" font-size="6.88" text-anchor="start" fill="#111" transform="matrix(1.1628,0,0,1,-36.481,0)">TILs high</text>
<path d="M211.8,958.1 H222.3 M217.05,955.4 V960.8000000000001" fill="none" stroke="#74a3d8" stroke-width="0.9"/>
<text x="224.10" y="961.20" font-size="6.88" text-anchor="start" fill="#111" transform="matrix(1.1628,0,0,1,-36.481,0)">TILs low-censored</text>
<path d="M211.8,965.1 H222.3 M217.05,962.4 V967.8000000000001" fill="none" stroke="#c9223f" stroke-width="0.9"/>
<text x="224.10" y="968.20" font-size="6.88" text-anchor="start" fill="#111" transform="matrix(1.1628,0,0,1,-36.481,0)">TILs intermediate-censored</text>
<path d="M211.8,972.3 H222.3 M217.05,969.5999999999999 V975.0" fill="none" stroke="#3d9150" stroke-width="0.9"/>
<text x="224.10" y="975.40" font-size="6.88" text-anchor="start" fill="#111" transform="matrix(1.1628,0,0,1,-36.481,0)">TILs high-censored</text>
<line x1="0" y1="1003.5" x2="309.5" y2="1003.5" stroke="#444" stroke-width="1.0"/>
<text x="0.50" y="1011.50" font-size="8.59" text-anchor="start" fill="#111" transform="matrix(0.9434,0,0,1,0.028,0)">Number at risk (number censored)</text>
<line x1="0" y1="1013.5" x2="309.5" y2="1013.5" stroke="#c0c0c0" stroke-width="1.0"/>
<text x="1.20" y="1023.30" font-size="8.59" text-anchor="start" fill="#111" transform="matrix(0.9434,0,0,1,0.068,0)">TILs low</text>
<text x="69.40" y="1023.30" font-size="8.59" text-anchor="start" fill="#111" transform="matrix(0.9434,0,0,1,3.928,0)">6(0)</text>
<text x="102.10" y="1023.30" font-size="8.59" text-anchor="start" fill="#111" transform="matrix(0.9434,0,0,1,5.779,0)">5(0)</text>
<text x="137.10" y="1023.30" font-size="8.59" text-anchor="start" fill="#111" transform="matrix(0.9434,0,0,1,7.760,0)">5(0)</text>
<text x="172.10" y="1023.30" font-size="8.59" text-anchor="start" fill="#111" transform="matrix(0.9434,0,0,1,9.742,0)">3(2)</text>
<text x="207.00" y="1023.30" font-size="8.59" text-anchor="start" fill="#111" transform="matrix(0.9434,0,0,1,11.717,0)">3(2)</text>
<text x="241.20" y="1023.30" font-size="8.59" text-anchor="start" fill="#111" transform="matrix(0.9434,0,0,1,13.653,0)">1(3)</text>
<text x="276.10" y="1023.30" font-size="8.59" text-anchor="start" fill="#111" transform="matrix(0.9434,0,0,1,15.628,0)">0(4)</text>
<text x="1.20" y="1035.10" font-size="8.59" text-anchor="start" fill="#111" transform="matrix(0.9434,0,0,1,0.068,0)">TILs intermediate</text>
<text x="69.40" y="1035.10" font-size="8.59" text-anchor="start" fill="#111" transform="matrix(0.9434,0,0,1,3.928,0)">59(0)</text>
<text x="102.10" y="1035.10" font-size="8.59" text-anchor="start" fill="#111" transform="matrix(0.9434,0,0,1,5.779,0)">59(0)</text>
<text x="137.10" y="1035.10" font-size="8.59" text-anchor="start" fill="#111" transform="matrix(0.9434,0,0,1,7.760,0)">51(0)</text>
<text x="172.10" y="1035.10" font-size="8.59" text-anchor="start" fill="#111" transform="matrix(0.9434,0,0,1,9.742,0)">11(38)</text>
<text x="207.00" y="1035.10" font-size="8.59" text-anchor="start" fill="#111" transform="matrix(0.9434,0,0,1,11.717,0)">3(46)</text>
<text x="241.20" y="1035.10" font-size="8.59" text-anchor="start" fill="#111" transform="matrix(0.9434,0,0,1,13.653,0)">3(46)</text>
<text x="276.10" y="1035.10" font-size="8.59" text-anchor="start" fill="#111" transform="matrix(0.9434,0,0,1,15.628,0)">0(49)</text>
<text x="1.20" y="1046.70" font-size="8.59" text-anchor="start" fill="#111" transform="matrix(0.9434,0,0,1,0.068,0)">TILs high</text>
<text x="69.40" y="1046.70" font-size="8.59" text-anchor="start" fill="#111" transform="matrix(0.9434,0,0,1,3.928,0)">20(0)</text>
<text x="102.10" y="1046.70" font-size="8.59" text-anchor="start" fill="#111" transform="matrix(0.9434,0,0,1,5.779,0)">20(0)</text>
<text x="137.10" y="1046.70" font-size="8.59" text-anchor="start" fill="#111" transform="matrix(0.9434,0,0,1,7.760,0)">19(1)</text>
<text x="172.10" y="1046.70" font-size="8.59" text-anchor="start" fill="#111" transform="matrix(0.9434,0,0,1,9.742,0)">11(6)</text>
<text x="207.00" y="1046.70" font-size="8.59" text-anchor="start" fill="#111" transform="matrix(0.9434,0,0,1,11.717,0)">1(16)</text>
<text x="241.20" y="1046.70" font-size="8.59" text-anchor="start" fill="#111" transform="matrix(0.9434,0,0,1,13.653,0)">1(16)</text>
<text x="276.10" y="1046.70" font-size="8.59" text-anchor="start" fill="#111" transform="matrix(0.9434,0,0,1,15.628,0)">0(17)</text>
<line x1="0" y1="1048.8" x2="309.5" y2="1048.8" stroke="#333" stroke-width="1.5"/>
<path d="M421.5,814V978.5H655" fill="none" stroke="#444" stroke-width="1.15" stroke-linejoin="miter"/>
<text x="419.20" y="824.00" font-size="8.48" text-anchor="end" fill="#111" transform="matrix(0.9434,0,0,1,23.728,0)">1.0</text>
<text x="419.20" y="853.70" font-size="8.48" text-anchor="end" fill="#111" transform="matrix(0.9434,0,0,1,23.728,0)">0.8</text>
<text x="419.20" y="883.40" font-size="8.48" text-anchor="end" fill="#111" transform="matrix(0.9434,0,0,1,23.728,0)">0.6</text>
<text x="419.20" y="913.10" font-size="8.48" text-anchor="end" fill="#111" transform="matrix(0.9434,0,0,1,23.728,0)">0.4</text>
<text x="419.20" y="942.80" font-size="8.48" text-anchor="end" fill="#111" transform="matrix(0.9434,0,0,1,23.728,0)">0.2</text>
<text x="419.20" y="972.50" font-size="8.48" text-anchor="end" fill="#111" transform="matrix(0.9434,0,0,1,23.728,0)">0.0</text>
<text x="435.90" y="987.70" font-size="8.48" text-anchor="middle" fill="#111" transform="matrix(0.9434,0,0,1,24.674,0)">.00</text>
<text x="472.80" y="987.70" font-size="8.48" text-anchor="middle" fill="#111" transform="matrix(0.9434,0,0,1,26.762,0)">20.00</text>
<text x="507.20" y="987.70" font-size="8.48" text-anchor="middle" fill="#111" transform="matrix(0.9434,0,0,1,28.709,0)">40.00</text>
<text x="543.20" y="987.70" font-size="8.48" text-anchor="middle" fill="#111" transform="matrix(0.9434,0,0,1,30.747,0)">60.00</text>
<text x="577.80" y="987.70" font-size="8.48" text-anchor="middle" fill="#111" transform="matrix(0.9434,0,0,1,32.706,0)">80.00</text>
<text x="614.00" y="987.70" font-size="8.48" text-anchor="middle" fill="#111" transform="matrix(0.9434,0,0,1,34.755,0)">100.00</text>
<text x="649.30" y="987.70" font-size="8.48" text-anchor="middle" fill="#111" transform="matrix(0.9434,0,0,1,36.753,0)">120.00</text>
<text x="544.00" y="998.70" font-size="9.5" text-anchor="middle" font-weight="bold" fill="#111" >Time since diagnosis</text>
<text x="402.30" y="891.00" font-size="9.5" text-anchor="middle" font-weight="bold" fill="#111" transform="rotate(-90 402.3 891)">Overall Survival (%)</text>
<text x="381.30" y="809.60" font-size="16.5" text-anchor="start" font-weight="bold" fill="#000" >h</text>
<path d="M433.5,822.5H449.5V846.5H642.5" fill="none" stroke="#74a3d8" stroke-width="1.0"/>
<path d="M513.5,844.7V848.3M530.5,844.7V848.3M586.5,844.7V848.3M596.5,844.7V848.3M640.5,844.7V848.3" fill="none" stroke="#74a3d8" stroke-width="1"/>
<path d="M433.5,822.5H481.5V823.5H487.5V824.5H488.5V826.5H490.5V827.5H492.5V828.5H494.5V830.5H494.5V831.5H494.5V832.5H495.5V834.5H498.5V835.5H498.5V836.5H499.5V837.5H499.5V838.5H500.5V840.5H500.5V841.5H504.5V842.5V844.5H514.5H515.5V845.5H516.5V847.5H517.5V848.5H636.5" fill="none" stroke="#c9223f" stroke-width="1.0"/>
<path d="M508.5,842.7V846.3M512.5,842.7V846.3M513.5,842.7V846.3M514.5,842.7V846.3M515.5,842.7V846.3M516.5,842.7V846.3M517.5,842.7V846.3M518.5,846.7V850.3M525.5,846.7V850.3M526.5,846.7V850.3M527.5,846.7V850.3M530.5,846.7V850.3M531.5,846.7V850.3M532.5,846.7V850.3M534.5,846.7V850.3M535.5,846.7V850.3M536.5,846.7V850.3M539.5,846.7V850.3M540.5,846.7V850.3M541.5,846.7V850.3M546.5,846.7V850.3M554.5,846.7V850.3M554.5,846.7V850.3M559.5,846.7V850.3M559.5,846.7V850.3M616.5,846.7V850.3M624.5,846.7V850.3M634.5,846.7V850.3M508.5,842.7V846.3M509.5,842.7V846.3M510.5,842.7V846.3M511.5,842.7V846.3M512.5,842.7V846.3M514.5,842.7V846.3M515.5,842.7V846.3M516.5,843.7V847.3M517.5,845.7V849.3M518.5,846.7V850.3M519.5,846.7V850.3M521.5,846.7V850.3M522.5,846.7V850.3M524.5,846.7V850.3M526.5,846.7V850.3M527.5,846.7V850.3M529.5,846.7V850.3M530.5,846.7V850.3M532.5,846.7V850.3M534.5,846.7V850.3M535.5,846.7V850.3M537.5,846.7V850.3M538.5,846.7V850.3M540.5,846.7V850.3" fill="none" stroke="#c9223f" stroke-width="1"/>
<path d="M433.5,822.5H503.5V829.5H643.5" fill="none" stroke="#3d9150" stroke-width="1.0"/>
<path d="M512.5,827.7V831.3M519.5,827.7V831.3M525.5,827.7V831.3M529.5,827.7V831.3M537.5,827.7V831.3M542.5,827.7V831.3M547.5,827.7V831.3M555.5,827.7V831.3M555.5,827.7V831.3M562.5,827.7V831.3M642.5,827.7V831.3" fill="none" stroke="#3d9150" stroke-width="1"/>
<text x="431.80" y="882.70" font-size="8.59" text-anchor="start" fill="#111" transform="matrix(0.9434,0,0,1,24.442,0)">log-rank p=0.392; n=85</text>
<text x="431.80" y="892.40" font-size="8.59" text-anchor="start" fill="#111" transform="matrix(0.9434,0,0,1,24.442,0)">TILs</text>
<text x="488.10" y="892.40" font-size="8.59" text-anchor="start" fill="#111" transform="matrix(0.9434,0,0,1,27.628,0)">Events n/N</text>
<text x="534.30" y="892.40" font-size="8.59" text-anchor="start" fill="#111" transform="matrix(0.9434,0,0,1,30.243,0)">HR</text>
<text x="563.20" y="892.40" font-size="8.59" text-anchor="start" fill="#111" transform="matrix(0.9434,0,0,1,31.879,0)">95% CI</text>
<line x1="431.8" y1="895.5" x2="608.4" y2="895.5" stroke="#555" stroke-width="1.0"/>
<text x="431.80" y="904.10" font-size="8.59" text-anchor="start" fill="#111" transform="matrix(0.9434,0,0,1,24.442,0)">Low</text>
<text x="488.10" y="904.10" font-size="8.59" text-anchor="start" fill="#111" transform="matrix(0.9434,0,0,1,27.628,0)">1/6</text>
<text x="534.30" y="904.10" font-size="8.59" text-anchor="start" fill="#111" transform="matrix(0.9434,0,0,1,30.243,0)">1.00</text>
<text x="563.20" y="904.10" font-size="8.59" text-anchor="start" fill="#111" transform="matrix(0.9434,0,0,1,31.879,0)">(Ref)</text>
<text x="431.80" y="912.30" font-size="8.59" text-anchor="start" fill="#111" transform="matrix(0.9434,0,0,1,24.442,0)">Intermediate</text>
<text x="488.10" y="912.30" font-size="8.59" text-anchor="start" fill="#111" transform="matrix(0.9434,0,0,1,27.628,0)">10/59</text>
<text x="534.30" y="912.30" font-size="8.59" text-anchor="start" fill="#111" transform="matrix(0.9434,0,0,1,30.243,0)">0.946</text>
<text x="563.20" y="912.30" font-size="8.59" text-anchor="start" fill="#111" transform="matrix(0.9434,0,0,1,31.879,0)">0.121-7.398</text>
<text x="431.80" y="920.80" font-size="8.59" text-anchor="start" fill="#111" transform="matrix(0.9434,0,0,1,24.442,0)">High</text>
<text x="488.10" y="920.80" font-size="8.59" text-anchor="start" fill="#111" transform="matrix(0.9434,0,0,1,27.628,0)">1/20</text>
<text x="534.30" y="920.80" font-size="8.59" text-anchor="start" fill="#111" transform="matrix(0.9434,0,0,1,30.243,0)">0.252</text>
<text x="563.20" y="920.80" font-size="8.59" text-anchor="start" fill="#111" transform="matrix(0.9434,0,0,1,31.879,0)">0.016-4.026</text>
<path d="M565.4,933.4 H570.125 V930.4 H575.9 V933.1" fill="none" stroke="#74a3d8" stroke-width="0.9"/>
<text x="577.20" y="935.00" font-size="6.88" text-anchor="start" fill="#111" transform="matrix(1.1628,0,0,1,-93.963,0)">TILs low</text>
<path d="M565.4,941.9 H570.125 V938.9 H575.9 V941.6" fill="none" stroke="#c9223f" stroke-width="0.9"/>
<text x="577.20" y="943.50" font-size="6.88" text-anchor="start" fill="#111" transform="matrix(1.1628,0,0,1,-93.963,0)">TILs intermediate</text>
<path d="M565.4,949.5 H570.125 V946.5 H575.9 V949.2" fill="none" stroke="#3d9150" stroke-width="0.9"/>
<text x="577.20" y="951.10" font-size="6.88" text-anchor="start" fill="#111" transform="matrix(1.1628,0,0,1,-93.963,0)">TILs high</text>
<path d="M565.4,955.6 H575.9 M570.65,952.9 V958.3000000000001" fill="none" stroke="#74a3d8" stroke-width="0.9"/>
<text x="577.20" y="958.70" font-size="6.88" text-anchor="start" fill="#111" transform="matrix(1.1628,0,0,1,-93.963,0)">TILs low-censored</text>
<path d="M565.4,963.1999999999999 H575.9 M570.65,960.4999999999999 V965.9" fill="none" stroke="#c9223f" stroke-width="0.9"/>
<text x="577.20" y="966.30" font-size="6.88" text-anchor="start" fill="#111" transform="matrix(1.1628,0,0,1,-93.963,0)">TILs intermediate-censored</text>
<path d="M565.4,969.8 H575.9 M570.65,967.0999999999999 V972.5" fill="none" stroke="#3d9150" stroke-width="0.9"/>
<text x="577.20" y="972.90" font-size="6.88" text-anchor="start" fill="#111" transform="matrix(1.1628,0,0,1,-93.963,0)">TILs high-censored</text>
<line x1="366.5" y1="1003.5" x2="672" y2="1003.5" stroke="#444" stroke-width="1.0"/>
<text x="367.00" y="1011.50" font-size="8.59" text-anchor="start" fill="#111" transform="matrix(0.9434,0,0,1,20.774,0)">Number at risk (number censored)</text>
<line x1="366.5" y1="1013.5" x2="672" y2="1013.5" stroke="#c0c0c0" stroke-width="1.0"/>
<text x="367.00" y="1023.50" font-size="8.59" text-anchor="start" fill="#111" transform="matrix(0.9434,0,0,1,20.774,0)">TILs low</text>
<text x="430.10" y="1023.50" font-size="8.59" text-anchor="start" fill="#111" transform="matrix(0.9434,0,0,1,24.345,0)">6(0)</text>
<text x="462.80" y="1023.50" font-size="8.59" text-anchor="start" fill="#111" transform="matrix(0.9434,0,0,1,26.196,0)">5(0)</text>
<text x="497.80" y="1023.50" font-size="8.59" text-anchor="start" fill="#111" transform="matrix(0.9434,0,0,1,28.177,0)">5(0)</text>
<text x="533.00" y="1023.50" font-size="8.59" text-anchor="start" fill="#111" transform="matrix(0.9434,0,0,1,30.170,0)">3(2)</text>
<text x="567.50" y="1023.50" font-size="8.59" text-anchor="start" fill="#111" transform="matrix(0.9434,0,0,1,32.123,0)">3(2)</text>
<text x="602.10" y="1023.50" font-size="8.59" text-anchor="start" fill="#111" transform="matrix(0.9434,0,0,1,34.081,0)">1(4)</text>
<text x="637.20" y="1023.50" font-size="8.59" text-anchor="start" fill="#111" transform="matrix(0.9434,0,0,1,36.068,0)">0(5)</text>
<text x="367.00" y="1035.10" font-size="8.59" text-anchor="start" fill="#111" transform="matrix(0.9434,0,0,1,20.774,0)">TILs intermediate</text>
<text x="430.10" y="1035.10" font-size="8.59" text-anchor="start" fill="#111" transform="matrix(0.9434,0,0,1,24.345,0)">59(0)</text>
<text x="462.80" y="1035.10" font-size="8.59" text-anchor="start" fill="#111" transform="matrix(0.9434,0,0,1,26.196,0)">59(0)</text>
<text x="497.80" y="1035.10" font-size="8.59" text-anchor="start" fill="#111" transform="matrix(0.9434,0,0,1,28.177,0)">51(0)</text>
<text x="533.00" y="1035.10" font-size="8.59" text-anchor="start" fill="#111" transform="matrix(0.9434,0,0,1,30.170,0)">11(38)</text>
<text x="567.50" y="1035.10" font-size="8.59" text-anchor="start" fill="#111" transform="matrix(0.9434,0,0,1,32.123,0)">3(46)</text>
<text x="602.10" y="1035.10" font-size="8.59" text-anchor="start" fill="#111" transform="matrix(0.9434,0,0,1,34.081,0)">3(46)</text>
<text x="637.20" y="1035.10" font-size="8.59" text-anchor="start" fill="#111" transform="matrix(0.9434,0,0,1,36.068,0)">0(49)</text>
<text x="367.00" y="1046.70" font-size="8.59" text-anchor="start" fill="#111" transform="matrix(0.9434,0,0,1,20.774,0)">TILs high</text>
<text x="430.10" y="1046.70" font-size="8.59" text-anchor="start" fill="#111" transform="matrix(0.9434,0,0,1,24.345,0)">20(0)</text>
<text x="462.80" y="1046.70" font-size="8.59" text-anchor="start" fill="#111" transform="matrix(0.9434,0,0,1,26.196,0)">20(0)</text>
<text x="497.80" y="1046.70" font-size="8.59" text-anchor="start" fill="#111" transform="matrix(0.9434,0,0,1,28.177,0)">19(0)</text>
<text x="533.00" y="1046.70" font-size="8.59" text-anchor="start" fill="#111" transform="matrix(0.9434,0,0,1,30.170,0)">11(8)</text>
<text x="567.50" y="1046.70" font-size="8.59" text-anchor="start" fill="#111" transform="matrix(0.9434,0,0,1,32.123,0)">1(18)</text>
<text x="602.10" y="1046.70" font-size="8.59" text-anchor="start" fill="#111" transform="matrix(0.9434,0,0,1,34.081,0)">1(18)</text>
<text x="637.20" y="1046.70" font-size="8.59" text-anchor="start" fill="#111" transform="matrix(0.9434,0,0,1,36.068,0)">0(19)</text>
<line x1="366.5" y1="1049" x2="672" y2="1049" stroke="#333" stroke-width="1.5"/>
</svg></body></html>
